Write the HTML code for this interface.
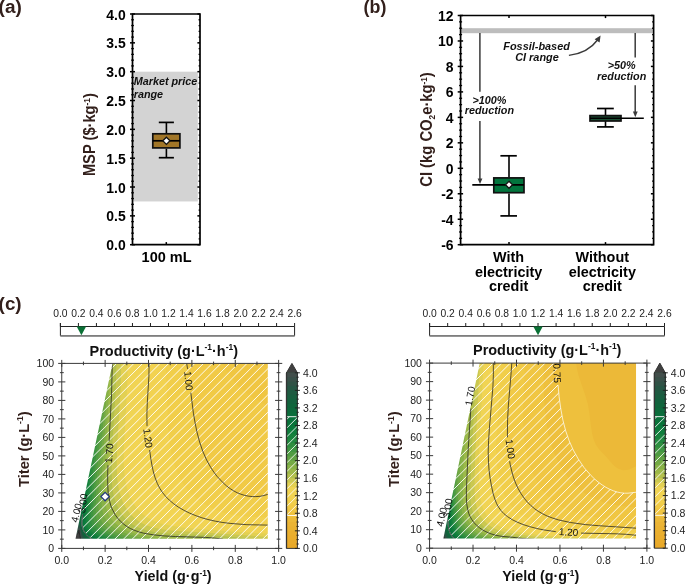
<!DOCTYPE html>
<html><head><meta charset="utf-8"><style>
html,body{margin:0;padding:0;background:#fff;}
svg{display:block;font-family:"Liberation Sans",sans-serif;will-change:transform;}
</style></head><body>
<svg width="685" height="585" viewBox="0 0 685 585">
<text x="-1.4" y="13.1" font-size="18" font-weight="bold" text-anchor="start" fill="#33201c"  textLength="23.2" lengthAdjust="spacingAndGlyphs">(a)</text>
<rect x="132.5" y="71.68" width="65.3" height="129.77" fill="#d3d3d3"/>
<line x1="130" y1="244.7" x2="135" y2="244.7" stroke="#000" stroke-width="1.5" />
<line x1="197.4" y1="244.7" x2="200" y2="244.7" stroke="#000" stroke-width="1.5" />
<text transform="translate(125.7,250.2) scale(0.93,1)" font-size="15" font-weight="bold" text-anchor="end" fill="#000" >0.0</text>
<line x1="131.2" y1="238.93" x2="133.9" y2="238.93" stroke="#000" stroke-width="1.3" />
<line x1="198.6" y1="238.93" x2="200" y2="238.93" stroke="#000" stroke-width="1.3" />
<line x1="131.2" y1="233.16" x2="133.9" y2="233.16" stroke="#000" stroke-width="1.3" />
<line x1="198.6" y1="233.16" x2="200" y2="233.16" stroke="#000" stroke-width="1.3" />
<line x1="131.2" y1="227.4" x2="133.9" y2="227.4" stroke="#000" stroke-width="1.3" />
<line x1="198.6" y1="227.4" x2="200" y2="227.4" stroke="#000" stroke-width="1.3" />
<line x1="131.2" y1="221.63" x2="133.9" y2="221.63" stroke="#000" stroke-width="1.3" />
<line x1="198.6" y1="221.63" x2="200" y2="221.63" stroke="#000" stroke-width="1.3" />
<line x1="130" y1="215.86" x2="135" y2="215.86" stroke="#000" stroke-width="1.5" />
<line x1="197.4" y1="215.86" x2="200" y2="215.86" stroke="#000" stroke-width="1.5" />
<text transform="translate(125.7,221.36) scale(0.93,1)" font-size="15" font-weight="bold" text-anchor="end" fill="#000" >0.5</text>
<line x1="131.2" y1="210.09" x2="133.9" y2="210.09" stroke="#000" stroke-width="1.3" />
<line x1="198.6" y1="210.09" x2="200" y2="210.09" stroke="#000" stroke-width="1.3" />
<line x1="131.2" y1="204.33" x2="133.9" y2="204.33" stroke="#000" stroke-width="1.3" />
<line x1="198.6" y1="204.33" x2="200" y2="204.33" stroke="#000" stroke-width="1.3" />
<line x1="131.2" y1="198.56" x2="133.9" y2="198.56" stroke="#000" stroke-width="1.3" />
<line x1="198.6" y1="198.56" x2="200" y2="198.56" stroke="#000" stroke-width="1.3" />
<line x1="131.2" y1="192.79" x2="133.9" y2="192.79" stroke="#000" stroke-width="1.3" />
<line x1="198.6" y1="192.79" x2="200" y2="192.79" stroke="#000" stroke-width="1.3" />
<line x1="130" y1="187.02" x2="135" y2="187.02" stroke="#000" stroke-width="1.5" />
<line x1="197.4" y1="187.02" x2="200" y2="187.02" stroke="#000" stroke-width="1.5" />
<text transform="translate(125.7,192.52) scale(0.93,1)" font-size="15" font-weight="bold" text-anchor="end" fill="#000" >1.0</text>
<line x1="131.2" y1="181.26" x2="133.9" y2="181.26" stroke="#000" stroke-width="1.3" />
<line x1="198.6" y1="181.26" x2="200" y2="181.26" stroke="#000" stroke-width="1.3" />
<line x1="131.2" y1="175.49" x2="133.9" y2="175.49" stroke="#000" stroke-width="1.3" />
<line x1="198.6" y1="175.49" x2="200" y2="175.49" stroke="#000" stroke-width="1.3" />
<line x1="131.2" y1="169.72" x2="133.9" y2="169.72" stroke="#000" stroke-width="1.3" />
<line x1="198.6" y1="169.72" x2="200" y2="169.72" stroke="#000" stroke-width="1.3" />
<line x1="131.2" y1="163.95" x2="133.9" y2="163.95" stroke="#000" stroke-width="1.3" />
<line x1="198.6" y1="163.95" x2="200" y2="163.95" stroke="#000" stroke-width="1.3" />
<line x1="130" y1="158.19" x2="135" y2="158.19" stroke="#000" stroke-width="1.5" />
<line x1="197.4" y1="158.19" x2="200" y2="158.19" stroke="#000" stroke-width="1.5" />
<text transform="translate(125.7,163.69) scale(0.93,1)" font-size="15" font-weight="bold" text-anchor="end" fill="#000" >1.5</text>
<line x1="131.2" y1="152.42" x2="133.9" y2="152.42" stroke="#000" stroke-width="1.3" />
<line x1="198.6" y1="152.42" x2="200" y2="152.42" stroke="#000" stroke-width="1.3" />
<line x1="131.2" y1="146.65" x2="133.9" y2="146.65" stroke="#000" stroke-width="1.3" />
<line x1="198.6" y1="146.65" x2="200" y2="146.65" stroke="#000" stroke-width="1.3" />
<line x1="131.2" y1="140.88" x2="133.9" y2="140.88" stroke="#000" stroke-width="1.3" />
<line x1="198.6" y1="140.88" x2="200" y2="140.88" stroke="#000" stroke-width="1.3" />
<line x1="131.2" y1="135.12" x2="133.9" y2="135.12" stroke="#000" stroke-width="1.3" />
<line x1="198.6" y1="135.12" x2="200" y2="135.12" stroke="#000" stroke-width="1.3" />
<line x1="130" y1="129.35" x2="135" y2="129.35" stroke="#000" stroke-width="1.5" />
<line x1="197.4" y1="129.35" x2="200" y2="129.35" stroke="#000" stroke-width="1.5" />
<text transform="translate(125.7,134.85) scale(0.93,1)" font-size="15" font-weight="bold" text-anchor="end" fill="#000" >2.0</text>
<line x1="131.2" y1="123.58" x2="133.9" y2="123.58" stroke="#000" stroke-width="1.3" />
<line x1="198.6" y1="123.58" x2="200" y2="123.58" stroke="#000" stroke-width="1.3" />
<line x1="131.2" y1="117.81" x2="133.9" y2="117.81" stroke="#000" stroke-width="1.3" />
<line x1="198.6" y1="117.81" x2="200" y2="117.81" stroke="#000" stroke-width="1.3" />
<line x1="131.2" y1="112.05" x2="133.9" y2="112.05" stroke="#000" stroke-width="1.3" />
<line x1="198.6" y1="112.05" x2="200" y2="112.05" stroke="#000" stroke-width="1.3" />
<line x1="131.2" y1="106.28" x2="133.9" y2="106.28" stroke="#000" stroke-width="1.3" />
<line x1="198.6" y1="106.28" x2="200" y2="106.28" stroke="#000" stroke-width="1.3" />
<line x1="130" y1="100.51" x2="135" y2="100.51" stroke="#000" stroke-width="1.5" />
<line x1="197.4" y1="100.51" x2="200" y2="100.51" stroke="#000" stroke-width="1.5" />
<text transform="translate(125.7,106.01) scale(0.93,1)" font-size="15" font-weight="bold" text-anchor="end" fill="#000" >2.5</text>
<line x1="131.2" y1="94.75" x2="133.9" y2="94.75" stroke="#000" stroke-width="1.3" />
<line x1="198.6" y1="94.75" x2="200" y2="94.75" stroke="#000" stroke-width="1.3" />
<line x1="131.2" y1="88.98" x2="133.9" y2="88.98" stroke="#000" stroke-width="1.3" />
<line x1="198.6" y1="88.98" x2="200" y2="88.98" stroke="#000" stroke-width="1.3" />
<line x1="131.2" y1="83.21" x2="133.9" y2="83.21" stroke="#000" stroke-width="1.3" />
<line x1="198.6" y1="83.21" x2="200" y2="83.21" stroke="#000" stroke-width="1.3" />
<line x1="131.2" y1="77.44" x2="133.9" y2="77.44" stroke="#000" stroke-width="1.3" />
<line x1="198.6" y1="77.44" x2="200" y2="77.44" stroke="#000" stroke-width="1.3" />
<line x1="130" y1="71.68" x2="135" y2="71.68" stroke="#000" stroke-width="1.5" />
<line x1="197.4" y1="71.68" x2="200" y2="71.68" stroke="#000" stroke-width="1.5" />
<text transform="translate(125.7,77.18) scale(0.93,1)" font-size="15" font-weight="bold" text-anchor="end" fill="#000" >3.0</text>
<line x1="131.2" y1="65.91" x2="133.9" y2="65.91" stroke="#000" stroke-width="1.3" />
<line x1="198.6" y1="65.91" x2="200" y2="65.91" stroke="#000" stroke-width="1.3" />
<line x1="131.2" y1="60.14" x2="133.9" y2="60.14" stroke="#000" stroke-width="1.3" />
<line x1="198.6" y1="60.14" x2="200" y2="60.14" stroke="#000" stroke-width="1.3" />
<line x1="131.2" y1="54.37" x2="133.9" y2="54.37" stroke="#000" stroke-width="1.3" />
<line x1="198.6" y1="54.37" x2="200" y2="54.37" stroke="#000" stroke-width="1.3" />
<line x1="131.2" y1="48.6" x2="133.9" y2="48.6" stroke="#000" stroke-width="1.3" />
<line x1="198.6" y1="48.6" x2="200" y2="48.6" stroke="#000" stroke-width="1.3" />
<line x1="130" y1="42.84" x2="135" y2="42.84" stroke="#000" stroke-width="1.5" />
<line x1="197.4" y1="42.84" x2="200" y2="42.84" stroke="#000" stroke-width="1.5" />
<text transform="translate(125.7,48.34) scale(0.93,1)" font-size="15" font-weight="bold" text-anchor="end" fill="#000" >3.5</text>
<line x1="131.2" y1="37.07" x2="133.9" y2="37.07" stroke="#000" stroke-width="1.3" />
<line x1="198.6" y1="37.07" x2="200" y2="37.07" stroke="#000" stroke-width="1.3" />
<line x1="131.2" y1="31.3" x2="133.9" y2="31.3" stroke="#000" stroke-width="1.3" />
<line x1="198.6" y1="31.3" x2="200" y2="31.3" stroke="#000" stroke-width="1.3" />
<line x1="131.2" y1="25.53" x2="133.9" y2="25.53" stroke="#000" stroke-width="1.3" />
<line x1="198.6" y1="25.53" x2="200" y2="25.53" stroke="#000" stroke-width="1.3" />
<line x1="131.2" y1="19.77" x2="133.9" y2="19.77" stroke="#000" stroke-width="1.3" />
<line x1="198.6" y1="19.77" x2="200" y2="19.77" stroke="#000" stroke-width="1.3" />
<line x1="130" y1="14" x2="135" y2="14" stroke="#000" stroke-width="1.5" />
<line x1="197.4" y1="14" x2="200" y2="14" stroke="#000" stroke-width="1.5" />
<text transform="translate(125.7,19.5) scale(0.93,1)" font-size="15" font-weight="bold" text-anchor="end" fill="#000" >4.0</text>
<path d="M132.5 14.0 H200.0 V244.7 H132.5 Z" fill="none" stroke="#000" stroke-width="1.7"/>
<line x1="166.3" y1="244.7" x2="166.3" y2="242.1" stroke="#000" stroke-width="1.5" />
<text x="166.6" y="261.6" font-size="14.5" font-weight="bold" text-anchor="middle" fill="#000" >100 mL</text>
<text transform="translate(95.2,134.6) rotate(-90)" font-size="15.8" font-weight="bold" text-anchor="middle" fill="#33201c" textLength="83" lengthAdjust="spacingAndGlyphs">MSP ($·kg<tspan font-size="9" dy="-5.5">-1</tspan><tspan dy="5.5">)</tspan></text>
<text x="133.7" y="85" font-size="10.8" font-weight="bold" text-anchor="start" fill="#111" font-style="italic" >Market price</text>
<text x="133.7" y="97.8" font-size="10.8" font-weight="bold" text-anchor="start" fill="#111" font-style="italic" >range</text>
<line x1="166.4" y1="122.4" x2="166.4" y2="133" stroke="#000" stroke-width="1.6" />
<line x1="166.4" y1="148.7" x2="166.4" y2="157.7" stroke="#000" stroke-width="1.6" />
<line x1="158.8" y1="122.4" x2="173.9" y2="122.4" stroke="#000" stroke-width="1.7" />
<line x1="158.8" y1="157.7" x2="173.9" y2="157.7" stroke="#000" stroke-width="1.7" />
<rect x="152.8" y="133.8" width="27.1" height="14.1" fill="#a17628" stroke="#111" stroke-width="1.7"/>
<line x1="152.8" y1="140.8" x2="179.9" y2="140.8" stroke="#000" stroke-width="1.7" />
<path d="M166.4 137.2 L170 140.8 L166.4 144.4 L162.8 140.8 Z" fill="#fff" stroke="#111" stroke-width="1.3"/>
<text x="363.6" y="12.8" font-size="18" font-weight="bold" text-anchor="start" fill="#33201c"  textLength="22.8" lengthAdjust="spacingAndGlyphs">(b)</text>
<rect x="461.5" y="28.2" width="191.1" height="5.0" fill="#bdbdbd"/>
<line x1="457.7" y1="244.7" x2="463.1" y2="244.7" stroke="#000" stroke-width="1.5" />
<line x1="650.9" y1="244.7" x2="653.6" y2="244.7" stroke="#000" stroke-width="1.5" />
<text transform="translate(453.6,250.2) scale(0.93,1)" font-size="15" font-weight="bold" text-anchor="end" fill="#000" >-6</text>
<line x1="459.1" y1="238.33" x2="462.1" y2="238.33" stroke="#000" stroke-width="1.3" />
<line x1="652.1" y1="238.33" x2="653.6" y2="238.33" stroke="#000" stroke-width="1.3" />
<line x1="459.1" y1="231.97" x2="462.1" y2="231.97" stroke="#000" stroke-width="1.3" />
<line x1="652.1" y1="231.97" x2="653.6" y2="231.97" stroke="#000" stroke-width="1.3" />
<line x1="459.1" y1="225.6" x2="462.1" y2="225.6" stroke="#000" stroke-width="1.3" />
<line x1="652.1" y1="225.6" x2="653.6" y2="225.6" stroke="#000" stroke-width="1.3" />
<line x1="457.7" y1="219.23" x2="463.1" y2="219.23" stroke="#000" stroke-width="1.5" />
<line x1="650.9" y1="219.23" x2="653.6" y2="219.23" stroke="#000" stroke-width="1.5" />
<text transform="translate(453.6,224.73) scale(0.93,1)" font-size="15" font-weight="bold" text-anchor="end" fill="#000" >-4</text>
<line x1="459.1" y1="212.87" x2="462.1" y2="212.87" stroke="#000" stroke-width="1.3" />
<line x1="652.1" y1="212.87" x2="653.6" y2="212.87" stroke="#000" stroke-width="1.3" />
<line x1="459.1" y1="206.5" x2="462.1" y2="206.5" stroke="#000" stroke-width="1.3" />
<line x1="652.1" y1="206.5" x2="653.6" y2="206.5" stroke="#000" stroke-width="1.3" />
<line x1="459.1" y1="200.13" x2="462.1" y2="200.13" stroke="#000" stroke-width="1.3" />
<line x1="652.1" y1="200.13" x2="653.6" y2="200.13" stroke="#000" stroke-width="1.3" />
<line x1="457.7" y1="193.77" x2="463.1" y2="193.77" stroke="#000" stroke-width="1.5" />
<line x1="650.9" y1="193.77" x2="653.6" y2="193.77" stroke="#000" stroke-width="1.5" />
<text transform="translate(453.6,199.27) scale(0.93,1)" font-size="15" font-weight="bold" text-anchor="end" fill="#000" >-2</text>
<line x1="459.1" y1="187.4" x2="462.1" y2="187.4" stroke="#000" stroke-width="1.3" />
<line x1="652.1" y1="187.4" x2="653.6" y2="187.4" stroke="#000" stroke-width="1.3" />
<line x1="459.1" y1="181.03" x2="462.1" y2="181.03" stroke="#000" stroke-width="1.3" />
<line x1="652.1" y1="181.03" x2="653.6" y2="181.03" stroke="#000" stroke-width="1.3" />
<line x1="459.1" y1="174.67" x2="462.1" y2="174.67" stroke="#000" stroke-width="1.3" />
<line x1="652.1" y1="174.67" x2="653.6" y2="174.67" stroke="#000" stroke-width="1.3" />
<line x1="457.7" y1="168.3" x2="463.1" y2="168.3" stroke="#000" stroke-width="1.5" />
<line x1="650.9" y1="168.3" x2="653.6" y2="168.3" stroke="#000" stroke-width="1.5" />
<text transform="translate(453.6,173.8) scale(0.93,1)" font-size="15" font-weight="bold" text-anchor="end" fill="#000" >0</text>
<line x1="459.1" y1="161.93" x2="462.1" y2="161.93" stroke="#000" stroke-width="1.3" />
<line x1="652.1" y1="161.93" x2="653.6" y2="161.93" stroke="#000" stroke-width="1.3" />
<line x1="459.1" y1="155.57" x2="462.1" y2="155.57" stroke="#000" stroke-width="1.3" />
<line x1="652.1" y1="155.57" x2="653.6" y2="155.57" stroke="#000" stroke-width="1.3" />
<line x1="459.1" y1="149.2" x2="462.1" y2="149.2" stroke="#000" stroke-width="1.3" />
<line x1="652.1" y1="149.2" x2="653.6" y2="149.2" stroke="#000" stroke-width="1.3" />
<line x1="457.7" y1="142.83" x2="463.1" y2="142.83" stroke="#000" stroke-width="1.5" />
<line x1="650.9" y1="142.83" x2="653.6" y2="142.83" stroke="#000" stroke-width="1.5" />
<text transform="translate(453.6,148.33) scale(0.93,1)" font-size="15" font-weight="bold" text-anchor="end" fill="#000" >2</text>
<line x1="459.1" y1="136.47" x2="462.1" y2="136.47" stroke="#000" stroke-width="1.3" />
<line x1="652.1" y1="136.47" x2="653.6" y2="136.47" stroke="#000" stroke-width="1.3" />
<line x1="459.1" y1="130.1" x2="462.1" y2="130.1" stroke="#000" stroke-width="1.3" />
<line x1="652.1" y1="130.1" x2="653.6" y2="130.1" stroke="#000" stroke-width="1.3" />
<line x1="459.1" y1="123.73" x2="462.1" y2="123.73" stroke="#000" stroke-width="1.3" />
<line x1="652.1" y1="123.73" x2="653.6" y2="123.73" stroke="#000" stroke-width="1.3" />
<line x1="457.7" y1="117.37" x2="463.1" y2="117.37" stroke="#000" stroke-width="1.5" />
<line x1="650.9" y1="117.37" x2="653.6" y2="117.37" stroke="#000" stroke-width="1.5" />
<text transform="translate(453.6,122.87) scale(0.93,1)" font-size="15" font-weight="bold" text-anchor="end" fill="#000" >4</text>
<line x1="459.1" y1="111" x2="462.1" y2="111" stroke="#000" stroke-width="1.3" />
<line x1="652.1" y1="111" x2="653.6" y2="111" stroke="#000" stroke-width="1.3" />
<line x1="459.1" y1="104.63" x2="462.1" y2="104.63" stroke="#000" stroke-width="1.3" />
<line x1="652.1" y1="104.63" x2="653.6" y2="104.63" stroke="#000" stroke-width="1.3" />
<line x1="459.1" y1="98.27" x2="462.1" y2="98.27" stroke="#000" stroke-width="1.3" />
<line x1="652.1" y1="98.27" x2="653.6" y2="98.27" stroke="#000" stroke-width="1.3" />
<line x1="457.7" y1="91.9" x2="463.1" y2="91.9" stroke="#000" stroke-width="1.5" />
<line x1="650.9" y1="91.9" x2="653.6" y2="91.9" stroke="#000" stroke-width="1.5" />
<text transform="translate(453.6,97.4) scale(0.93,1)" font-size="15" font-weight="bold" text-anchor="end" fill="#000" >6</text>
<line x1="459.1" y1="85.53" x2="462.1" y2="85.53" stroke="#000" stroke-width="1.3" />
<line x1="652.1" y1="85.53" x2="653.6" y2="85.53" stroke="#000" stroke-width="1.3" />
<line x1="459.1" y1="79.17" x2="462.1" y2="79.17" stroke="#000" stroke-width="1.3" />
<line x1="652.1" y1="79.17" x2="653.6" y2="79.17" stroke="#000" stroke-width="1.3" />
<line x1="459.1" y1="72.8" x2="462.1" y2="72.8" stroke="#000" stroke-width="1.3" />
<line x1="652.1" y1="72.8" x2="653.6" y2="72.8" stroke="#000" stroke-width="1.3" />
<line x1="457.7" y1="66.43" x2="463.1" y2="66.43" stroke="#000" stroke-width="1.5" />
<line x1="650.9" y1="66.43" x2="653.6" y2="66.43" stroke="#000" stroke-width="1.5" />
<text transform="translate(453.6,71.93) scale(0.93,1)" font-size="15" font-weight="bold" text-anchor="end" fill="#000" >8</text>
<line x1="459.1" y1="60.07" x2="462.1" y2="60.07" stroke="#000" stroke-width="1.3" />
<line x1="652.1" y1="60.07" x2="653.6" y2="60.07" stroke="#000" stroke-width="1.3" />
<line x1="459.1" y1="53.7" x2="462.1" y2="53.7" stroke="#000" stroke-width="1.3" />
<line x1="652.1" y1="53.7" x2="653.6" y2="53.7" stroke="#000" stroke-width="1.3" />
<line x1="459.1" y1="47.33" x2="462.1" y2="47.33" stroke="#000" stroke-width="1.3" />
<line x1="652.1" y1="47.33" x2="653.6" y2="47.33" stroke="#000" stroke-width="1.3" />
<line x1="457.7" y1="40.97" x2="463.1" y2="40.97" stroke="#000" stroke-width="1.5" />
<line x1="650.9" y1="40.97" x2="653.6" y2="40.97" stroke="#000" stroke-width="1.5" />
<text transform="translate(453.6,46.47) scale(0.93,1)" font-size="15" font-weight="bold" text-anchor="end" fill="#000" >10</text>
<line x1="459.1" y1="34.6" x2="462.1" y2="34.6" stroke="#000" stroke-width="1.3" />
<line x1="652.1" y1="34.6" x2="653.6" y2="34.6" stroke="#000" stroke-width="1.3" />
<line x1="459.1" y1="28.23" x2="462.1" y2="28.23" stroke="#000" stroke-width="1.3" />
<line x1="652.1" y1="28.23" x2="653.6" y2="28.23" stroke="#000" stroke-width="1.3" />
<line x1="459.1" y1="21.87" x2="462.1" y2="21.87" stroke="#000" stroke-width="1.3" />
<line x1="652.1" y1="21.87" x2="653.6" y2="21.87" stroke="#000" stroke-width="1.3" />
<line x1="457.7" y1="15.5" x2="463.1" y2="15.5" stroke="#000" stroke-width="1.5" />
<line x1="650.9" y1="15.5" x2="653.6" y2="15.5" stroke="#000" stroke-width="1.5" />
<text transform="translate(453.6,21) scale(0.93,1)" font-size="15" font-weight="bold" text-anchor="end" fill="#000" >12</text>
<path d="M460.6 15.5 H653.6 V244.7 H460.6 Z" fill="none" stroke="#000" stroke-width="1.7"/>
<line x1="509" y1="244.7" x2="509" y2="242.1" stroke="#000" stroke-width="1.5" />
<line x1="509" y1="15.5" x2="509" y2="18.1" stroke="#000" stroke-width="1.5" />
<line x1="605.5" y1="244.7" x2="605.5" y2="242.1" stroke="#000" stroke-width="1.5" />
<line x1="605.5" y1="15.5" x2="605.5" y2="18.1" stroke="#000" stroke-width="1.5" />
<text x="508.6" y="262.3" font-size="14.4" font-weight="bold" text-anchor="middle" fill="#000" >With</text>
<text x="508.6" y="276.5" font-size="14.4" font-weight="bold" text-anchor="middle" fill="#000" >electricity</text>
<text x="508.6" y="290.6" font-size="14.4" font-weight="bold" text-anchor="middle" fill="#000" >credit</text>
<text x="602.3" y="262.3" font-size="14.4" font-weight="bold" text-anchor="middle" fill="#000" >Without</text>
<text x="602.3" y="276.5" font-size="14.4" font-weight="bold" text-anchor="middle" fill="#000" >electricity</text>
<text x="602.3" y="290.6" font-size="14.4" font-weight="bold" text-anchor="middle" fill="#000" >credit</text>
<text transform="translate(432.3,129.5) rotate(-90)" font-size="16.3" font-weight="bold" text-anchor="middle" fill="#33201c" textLength="114.6" lengthAdjust="spacingAndGlyphs">CI (kg CO<tspan font-size="9" dy="3">2</tspan><tspan dy="-3">e·kg</tspan><tspan font-size="9" dy="-5.5">-1</tspan><tspan dy="5.5">)</tspan></text>
<line x1="509" y1="155.8" x2="509" y2="177.2" stroke="#000" stroke-width="1.6" />
<line x1="509" y1="193.4" x2="509" y2="215.9" stroke="#000" stroke-width="1.6" />
<line x1="500.4" y1="155.8" x2="516.8" y2="155.8" stroke="#000" stroke-width="1.7" />
<line x1="500.4" y1="215.9" x2="517" y2="215.9" stroke="#000" stroke-width="1.7" />
<rect x="493.8" y="177.9" width="30.2" height="14.8" fill="#02743d" stroke="#111" stroke-width="1.7"/>
<line x1="472.3" y1="184.8" x2="524" y2="184.8" stroke="#000" stroke-width="1.7" />
<path d="M509 181.3 L512.5 184.8 L509 188.3 L505.5 184.8 Z" fill="#fff" stroke="#111" stroke-width="1.3"/>
<line x1="605.5" y1="108.5" x2="605.5" y2="115.4" stroke="#000" stroke-width="1.6" />
<line x1="605.5" y1="121.1" x2="605.5" y2="126.9" stroke="#000" stroke-width="1.6" />
<line x1="597" y1="108.5" x2="613.8" y2="108.5" stroke="#000" stroke-width="1.7" />
<line x1="597" y1="126.9" x2="613.8" y2="126.9" stroke="#000" stroke-width="1.7" />
<rect x="590" y="115.6" width="31" height="5.4" fill="#1b4f33" stroke="#111" stroke-width="1.7"/>
<line x1="590" y1="118.2" x2="643.8" y2="118.2" stroke="#000" stroke-width="1.6" />
<line x1="479.9" y1="33" x2="479.9" y2="91.8" stroke="#3a3a3a" stroke-width="1.5" />
<line x1="479.9" y1="121" x2="479.9" y2="180" stroke="#3a3a3a" stroke-width="1.5" />
<path d="M477.6 178.5 L480 184 L482.4 178.5 Z" fill="#3a3a3a"/>
<line x1="635.2" y1="33" x2="635.2" y2="57.6" stroke="#3a3a3a" stroke-width="1.5" />
<line x1="635.2" y1="85.2" x2="635.2" y2="112" stroke="#3a3a3a" stroke-width="1.5" />
<path d="M632.9 111.5 L635.3 117.2 L637.7 111.5 Z" fill="#3a3a3a"/>
<text x="489.4" y="103.6" font-size="10.8" font-weight="bold" text-anchor="middle" fill="#111" font-style="italic" >&gt;100%</text>
<text x="489.4" y="114.1" font-size="10.8" font-weight="bold" text-anchor="middle" fill="#111" font-style="italic" >reduction</text>
<text x="621.6" y="69.2" font-size="10.8" font-weight="bold" text-anchor="middle" fill="#111" font-style="italic" >&gt;50%</text>
<text x="621.7" y="80.3" font-size="10.8" font-weight="bold" text-anchor="middle" fill="#111" font-style="italic" >reduction</text>
<text x="536.6" y="50.4" font-size="10.9" font-weight="bold" text-anchor="middle" fill="#111" font-style="italic" >Fossil-based</text>
<text x="537" y="61" font-size="10.9" font-weight="bold" text-anchor="middle" fill="#111" font-style="italic" >CI range</text>
<path d="M568.9 55.4 Q588 53 597.5 40" fill="none" stroke="#3a3a3a" stroke-width="1.4"/>
<path d="M594.6 39.2 L600.6 35.4 L599.6 42.4 Z" fill="#3a3a3a"/>
<text x="-1.4" y="310.1" font-size="18" font-weight="bold" text-anchor="start" fill="#33201c"  textLength="23.0" lengthAdjust="spacingAndGlyphs">(c)</text>
<text x="60.4" y="316.9" font-size="10.3" font-weight="normal" text-anchor="middle" fill="#222" >0.0</text>
<line x1="60.4" y1="323" x2="60.4" y2="326.5" stroke="#222" stroke-width="1" />
<text x="78.41" y="316.9" font-size="10.3" font-weight="normal" text-anchor="middle" fill="#222" >0.2</text>
<line x1="78.41" y1="323" x2="78.41" y2="326.5" stroke="#222" stroke-width="1" />
<text x="96.43" y="316.9" font-size="10.3" font-weight="normal" text-anchor="middle" fill="#222" >0.4</text>
<line x1="96.43" y1="323" x2="96.43" y2="326.5" stroke="#222" stroke-width="1" />
<text x="114.44" y="316.9" font-size="10.3" font-weight="normal" text-anchor="middle" fill="#222" >0.6</text>
<line x1="114.44" y1="323" x2="114.44" y2="326.5" stroke="#222" stroke-width="1" />
<text x="132.46" y="316.9" font-size="10.3" font-weight="normal" text-anchor="middle" fill="#222" >0.8</text>
<line x1="132.46" y1="323" x2="132.46" y2="326.5" stroke="#222" stroke-width="1" />
<text x="150.47" y="316.9" font-size="10.3" font-weight="normal" text-anchor="middle" fill="#222" >1.0</text>
<line x1="150.47" y1="323" x2="150.47" y2="326.5" stroke="#222" stroke-width="1" />
<text x="168.49" y="316.9" font-size="10.3" font-weight="normal" text-anchor="middle" fill="#222" >1.2</text>
<line x1="168.49" y1="323" x2="168.49" y2="326.5" stroke="#222" stroke-width="1" />
<text x="186.5" y="316.9" font-size="10.3" font-weight="normal" text-anchor="middle" fill="#222" >1.4</text>
<line x1="186.5" y1="323" x2="186.5" y2="326.5" stroke="#222" stroke-width="1" />
<text x="204.52" y="316.9" font-size="10.3" font-weight="normal" text-anchor="middle" fill="#222" >1.6</text>
<line x1="204.52" y1="323" x2="204.52" y2="326.5" stroke="#222" stroke-width="1" />
<text x="222.53" y="316.9" font-size="10.3" font-weight="normal" text-anchor="middle" fill="#222" >1.8</text>
<line x1="222.53" y1="323" x2="222.53" y2="326.5" stroke="#222" stroke-width="1" />
<text x="240.55" y="316.9" font-size="10.3" font-weight="normal" text-anchor="middle" fill="#222" >2.0</text>
<line x1="240.55" y1="323" x2="240.55" y2="326.5" stroke="#222" stroke-width="1" />
<text x="258.56" y="316.9" font-size="10.3" font-weight="normal" text-anchor="middle" fill="#222" >2.2</text>
<line x1="258.56" y1="323" x2="258.56" y2="326.5" stroke="#222" stroke-width="1" />
<text x="276.58" y="316.9" font-size="10.3" font-weight="normal" text-anchor="middle" fill="#222" >2.4</text>
<line x1="276.58" y1="323" x2="276.58" y2="326.5" stroke="#222" stroke-width="1" />
<text x="294.59" y="316.9" font-size="10.3" font-weight="normal" text-anchor="middle" fill="#222" >2.6</text>
<line x1="294.59" y1="323" x2="294.59" y2="326.5" stroke="#222" stroke-width="1" />
<path d="M60.4 323V335.8H294.59V326.5H60.4" fill="none" stroke="#222" stroke-width="1"/>
<line x1="60.4" y1="336" x2="294.59" y2="336" stroke="#888" stroke-width="1.6"/>
<path d="M76.69 326.6H86.09L81.39 335.3Z" fill="#0a7035"/>
<text x="89.6" y="355.7" font-size="15.5" font-weight="bold" text-anchor="start" fill="#111"  textLength="148.4" lengthAdjust="spacingAndGlyphs">Productivity (g·L<tspan font-size="9" dy="-5.5">-1</tspan><tspan dy="5.5">·h</tspan><tspan font-size="9" dy="-5.5">-1</tspan><tspan dy="5.5">)</tspan></text>
<mask id="lmL" maskUnits="userSpaceOnUse" x="0" y="0" width="685" height="585"><rect width="685" height="585" fill="#fff"/><rect x="97.2" y="449" width="24" height="8.4" fill="#000" transform="rotate(-86 109.2 453.2)"/><rect x="136.1" y="433.9" width="24" height="8.4" fill="#000" transform="rotate(82 148.1 438.1)"/><rect x="176.8" y="376.6" width="24" height="8.4" fill="#000" transform="rotate(85 188.8 380.8)"/><rect x="71.7" y="499.1" width="22" height="8.4" fill="#000" transform="rotate(-82 82.7 503.3)"/><rect x="65.3" y="508.6" width="22" height="8.4" fill="#000" transform="rotate(-76 76.3 512.8)"/></mask>
<mask id="dmL" maskUnits="userSpaceOnUse" x="0" y="0" width="685" height="585"><path d="M75.51 538.7L112.5 363.4L267.81 363.4L267.81 538.7Z" fill="#fff"/></mask>
<g mask="url(#dmL)">
<rect x="69.34" y="362.4" width="199.46" height="177.75" fill="#e9a929"/>
<path d="M69.9 362.8L267.9 362.8L267.9 539.2L69.3 539.2L69.3 362.8Z" fill="#e9ab2b"/>
<path d="M69.9 362.8L267.9 362.8L267.9 539.2L69.3 539.2L69.3 362.8Z" fill="#eaad2d"/>
<path d="M69.9 362.8L267.9 362.8L267.9 539.2L69.3 539.2L69.3 362.8Z" fill="#eaaf2f"/>
<path d="M69.9 362.8L267.9 362.8L267.9 539.2L69.3 539.2L69.3 362.8Z" fill="#eab232"/>
<path d="M69.9 362.8L267.9 362.8L267.9 539.2L69.3 539.2L69.3 362.8Z" fill="#ebb435"/>
<path d="M69.9 362.8L267.9 362.8L267.9 539.2L69.3 539.2L69.3 362.8Z" fill="#ecb938"/>
<path d="M69.9 362.8L267.9 362.8L267.9 539.2L69.3 539.2L69.3 362.8Z" fill="#eec03d"/>
<path d="M69.9 362.8L267.9 362.8L267.9 539.2L69.3 539.2L69.3 362.8Z" fill="#f0c642"/>
<path d="M69.9 362.8L221.6 362.8L226.5 370.7L231.3 377.6L236.1 383.4L240.9 388.2L246.9 393.3L253.5 398.0L260.7 402.3L267.9 405.9L267.9 539.2L69.3 539.2L69.3 362.8Z" fill="#f1ca46"/>
<path d="M69.9 362.8L186.6 362.8L188.9 377.2L193.0 410.2L195.6 425.8L197.7 435.3L200.0 443.2L202.5 450.7L205.5 457.6L207.9 462.6L211.0 467.8L214.2 472.6L217.5 476.9L221.2 481.0L225.0 484.6L228.9 487.7L233.3 490.6L237.3 492.8L241.5 494.5L246.3 495.8L250.5 496.5L255.3 496.6L259.5 496.3L263.1 495.7L267.9 494.4L267.9 539.2L69.3 539.2L69.3 362.8Z" fill="#f1ce4a"/>
<path d="M69.9 362.8L165.0 362.8L166.0 373.0L166.6 383.8L167.9 424.6L168.6 434.2L169.7 443.2L171.6 454.6L174.1 464.2L177.1 472.6L181.0 480.4L184.1 485.2L187.3 489.4L191.2 493.6L195.0 497.2L199.5 500.8L203.9 503.8L209.1 506.8L214.1 509.2L218.7 511.0L224.3 512.8L230.1 514.2L236.1 515.3L249.3 516.7L267.9 517.4L267.9 539.2L69.3 539.2L69.3 362.8Z" fill="#f2d250"/>
<path d="M69.9 362.8L149.1 362.8L148.9 376.6L147.3 402.6L146.9 413.8L147.0 424.6L147.7 434.8L150.6 457.6L151.9 464.8L153.3 471.4L155.0 477.4L156.8 482.2L159.0 487.0L161.6 491.2L164.8 495.4L168.3 499.2L172.5 502.9L177.3 506.4L183.0 509.8L188.9 512.8L194.6 515.2L201.3 517.6L207.5 519.4L215.4 521.2L222.1 522.4L229.5 523.4L246.3 524.7L267.9 525.1L267.9 539.2L69.3 539.2L69.3 362.8Z" fill="#f2d452"/>
<path d="M69.9 362.8L136.3 362.8L136.0 383.8L134.2 423.4L133.7 439.0L133.9 454.0L134.7 466.2L135.7 473.2L137.0 479.2L138.7 485.2L140.7 490.4L143.1 495.3L145.8 499.6L149.1 503.8L152.7 507.4L155.6 509.8L159.1 512.2L163.3 514.6L167.2 516.4L171.9 518.2L177.5 520.0L190.0 523.0L204.3 525.4L222.9 527.6L242.7 529.0L267.9 530.0L267.9 539.2L69.3 539.2L69.3 362.8Z" fill="#f0d454"/>
<path d="M69.9 362.8L127.6 362.8L127.4 377.2L126.9 392.8L123.8 449.2L123.7 462.4L124.4 473.2L125.2 479.8L126.4 485.8L128.1 491.7L130.0 496.6L132.4 501.4L135.3 506.0L138.3 509.9L141.9 513.5L147.3 517.6L153.0 520.6L159.9 523.2L168.3 525.2L182.7 527.5L204.7 529.6L231.9 531.6L267.9 533.7L267.9 539.2L69.3 539.2L69.3 362.8Z" fill="#e2d053"/>
<path d="M69.9 362.8L121.2 362.8L120.9 379.6L120.3 395.8L117.5 439.6L116.9 452.8L116.7 467.2L117.2 478.6L118.0 484.6L119.1 490.8L120.8 496.6L122.6 501.4L125.1 506.4L128.1 511.0L131.1 514.7L134.7 518.2L140.1 522.2L146.1 525.2L153.3 527.5L161.7 529.2L168.9 530.2L178.5 531.0L226.5 533.9L267.9 536.9L267.9 539.2L69.3 539.2L69.3 362.8Z" fill="#cac851"/>
<path d="M69.9 362.8L116.3 362.8L116.0 379.6L115.4 395.2L112.7 439.6L111.9 455.4L111.6 471.4L111.9 482.8L112.5 488.8L113.4 494.2L114.6 499.0L116.3 503.8L118.5 508.6L120.9 512.7L123.7 516.4L126.9 519.9L132.3 524.2L135.3 526.1L138.9 527.8L145.9 530.2L154.5 532.0L162.3 533.0L171.3 533.7L205.5 535.1L224.3 536.2L244.4 538.0L251.9 539.2L69.3 539.2L69.3 362.8Z" fill="#b3c04e"/>
<path d="M69.9 362.8L112.3 362.8L112.1 379.0L111.5 396.4L107.9 467.2L107.6 478.0L107.7 486.2L108.7 496.6L109.5 500.9L110.7 505.3L112.2 509.2L114.0 512.8L116.1 516.2L118.5 519.2L121.0 521.8L123.8 524.2L127.1 526.6L130.2 528.4L134.1 530.2L137.3 531.4L141.4 532.6L146.8 533.8L155.1 535.1L165.3 536.0L175.5 536.5L205.5 537.4L214.5 538.1L223.2 539.2L69.3 539.2L69.3 362.8Z" fill="#9dba4a"/>
<path d="M69.9 362.8L109.0 362.8L108.6 392.2L108.1 410.2L104.7 470.6L104.3 487.6L104.6 497.2L105.6 505.0L107.1 511.0L109.5 516.3L111.2 518.8L113.2 521.2L115.6 523.6L118.5 526.0L124.4 529.6L131.3 532.6L138.3 534.7L147.3 536.4L157.5 537.8L172.8 539.2L69.3 539.2L69.3 362.8Z" fill="#88b247"/>
<path d="M69.9 362.8L106.5 362.8L106.2 394.6L105.6 415.6L104.7 433.0L102.0 472.0L101.3 487.6L101.4 502.0L101.8 507.4L102.7 512.2L103.5 515.2L104.5 517.6L107.1 521.7L110.9 525.4L116.2 529.0L122.0 532.0L128.7 534.5L135.9 536.5L148.2 539.2L69.3 539.2L69.3 362.8Z" fill="#74aa45"/>
<path d="M69.9 362.8L104.2 362.8L104.1 395.2L103.6 414.4L102.6 431.2L99.4 473.8L98.4 491.8L98.4 505.6L98.6 510.4L99.2 514.6L100.3 518.8L102.2 522.4L104.9 525.4L108.8 528.4L114.1 531.4L119.5 533.8L125.7 536.0L136.2 539.2L69.3 539.2L69.3 362.8Z" fill="#61a244"/>
<path d="M69.9 362.8L102.0 362.8L102.0 391.6L101.6 409.6L100.7 426.4L97.5 467.8L96.2 487.6L95.6 506.8L95.8 512.8L96.2 517.0L97.0 520.6L98.4 523.6L100.4 526.0L103.2 528.4L107.0 530.8L111.9 533.2L117.3 535.4L127.6 539.2L69.3 539.2L69.3 362.8Z" fill="#4f9c42"/>
<path d="M69.9 362.8L99.8 362.8L99.7 389.8L99.2 409.6L98.2 427.6L95.2 468.4L94.1 487.6L93.2 508.6L93.2 514.6L93.5 518.8L94.0 521.8L95.1 524.6L96.9 527.0L99.2 529.0L101.9 530.8L106.5 533.2L120.8 539.2L69.3 539.2L69.3 362.8Z" fill="#3f9542"/>
<path d="M69.9 362.8L97.7 362.8L97.5 388.0L96.9 409.0L95.9 427.6L92.2 486.4L91.1 513.4L91.2 521.2L91.6 523.6L92.6 526.0L93.9 527.8L95.8 529.6L98.5 531.4L101.8 533.2L115.1 539.2L69.3 539.2L69.3 362.8Z" fill="#308f40"/>
<path d="M69.9 362.8L95.6 362.8L95.3 386.8L94.6 408.4L90.7 480.4L89.1 518.2L89.1 523.0L89.6 525.4L90.4 527.2L91.7 529.0L93.8 530.8L98.9 533.8L110.3 539.2L69.3 539.2L69.3 362.8Z" fill="#238940"/>
<path d="M69.9 362.8L93.5 362.8L93.2 386.8L92.5 409.6L89.2 475.0L87.3 524.2L87.8 526.6L88.5 528.1L89.7 529.8L91.5 531.4L95.3 533.8L106.1 539.2L69.3 539.2L69.3 362.8Z" fill="#18833e"/>
<path d="M69.9 362.8L91.6 362.8L91.2 386.2L90.6 409.0L87.6 475.0L86.6 511.0L85.7 524.8L86.0 526.6L86.8 528.4L88.0 530.2L89.8 532.0L93.3 534.4L102.6 539.2L69.3 539.2L69.3 362.8Z" fill="#107e3d"/>
<path d="M69.9 362.8L89.9 362.8L88.9 406.0L86.0 478.0L85.5 511.6L84.4 524.8L84.8 527.2L85.5 528.9L86.8 530.8L88.5 532.6L91.5 534.9L99.5 539.2L69.3 539.2L69.3 362.8Z" fill="#0a783b"/>
<path d="M69.9 362.8L88.2 362.8L87.3 404.8L84.6 477.4L84.4 512.8L83.4 524.8L83.7 527.0L84.5 529.0L85.5 530.8L87.3 533.0L90.3 535.5L96.8 539.2L69.3 539.2L69.3 362.8Z" fill="#08743a"/>
<path d="M69.9 362.8L86.7 362.8L85.8 401.8L83.3 477.4L83.1 493.0L83.4 514.6L83.3 517.6L82.5 522.1L82.5 524.2L82.9 526.6L83.7 529.2L84.9 531.4L86.1 533.1L89.1 535.9L94.4 539.2L69.3 539.2L69.3 362.8Z" fill="#09723c"/>
<path d="M69.9 362.8L85.3 362.8L84.4 400.6L81.9 476.2L81.8 494.8L82.5 515.2L81.8 523.0L82.0 524.8L82.6 527.8L83.7 530.7L84.9 532.7L87.9 536.2L92.4 539.2L69.3 539.2L69.3 362.8Z" fill="#0b6e3c"/>
<path d="M69.9 362.8L84.0 362.8L83.0 403.0L80.5 481.0L80.4 496.0L81.2 514.6L81.1 521.2L81.4 524.2L81.9 527.0L83.7 531.9L84.9 534.0L86.7 536.2L90.4 539.2L69.3 539.2L69.3 362.8Z" fill="#0d6a3c"/>
<path d="M69.9 362.8L82.8 362.8L81.7 406.6L79.2 478.6L79.0 492.4L79.1 502.6L80.3 520.0L81.6 527.2L82.7 530.8L84.3 534.2L86.1 536.7L88.7 539.2L69.3 539.2L69.3 362.8Z" fill="#10663c"/>
<path d="M69.9 362.8L81.7 362.8L80.4 410.8L77.7 485.8L77.5 505.6L77.8 511.0L78.5 515.8L81.9 529.8L83.1 533.1L84.3 535.4L87.3 539.2L69.3 539.2L69.3 362.8Z" fill="#14623d"/>
<path d="M69.9 362.8L80.7 362.8L79.1 417.4L75.9 496.0L75.8 510.4L76.1 514.6L76.7 517.6L79.5 523.2L83.1 534.4L84.3 536.7L86.2 539.2L69.3 539.2L69.3 362.8Z" fill="#195e3f"/>
<path d="M69.9 362.8L79.7 362.8L78.2 416.2L74.6 497.8L74.3 514.6L74.7 520.3L75.3 523.2L75.9 524.3L76.5 524.2L77.7 523.3L78.3 523.3L79.5 524.8L80.7 527.8L82.5 534.3L83.7 536.9L85.1 539.2L69.3 539.2L69.3 362.8Z" fill="#1f5a41"/>
<path d="M69.9 362.8L78.8 362.8L76.8 426.4L73.4 502.0L73.2 512.2L73.5 520.0L74.1 524.9L74.7 527.0L75.3 528.2L75.9 528.8L76.5 528.8L77.6 526.0L78.3 525.2L78.9 525.4L79.5 526.1L80.5 528.4L82.3 535.0L84.1 539.2L69.3 539.2L69.3 362.8Z" fill="#265644"/>
<path d="M69.9 362.8L78.0 362.8L76.1 424.0L72.5 501.4L72.3 512.2L72.6 520.0L73.4 526.0L74.6 529.6L75.3 530.6L75.9 530.9L76.5 530.9L77.1 530.4L77.8 527.8L78.3 526.8L78.9 526.6L79.5 527.2L80.3 529.0L81.9 535.6L83.3 539.2L69.3 539.2L69.3 362.8Z" fill="#305246"/>
<path d="M69.9 362.8L77.2 362.8L75.2 426.4L71.7 499.9L71.5 511.6L71.8 520.0L72.6 526.6L73.3 529.0L74.1 530.8L75.3 532.2L75.9 532.4L76.5 532.3L77.3 531.4L78.3 528.2L78.9 527.7L79.5 528.2L80.1 529.8L81.3 535.6L82.4 539.2L69.3 539.2L69.3 362.8Z" fill="#385049"/>
<path d="M69.9 362.8L76.5 362.8L74.5 424.6L71.1 499.0L70.8 510.4L71.1 519.4L71.9 526.6L72.7 529.6L73.5 531.7L74.8 533.2L75.9 533.6L76.5 533.5L77.1 533.1L77.7 532.1L78.7 529.0L78.9 528.7L79.3 529.0L79.8 530.2L80.5 535.0L81.5 539.2L69.3 539.2L69.3 362.8Z" fill="#414e4b"/>
<path d="M69.9 362.8L75.8 362.8L73.8 424.0L70.4 499.0L70.1 510.4L70.4 518.8L71.2 526.6L71.9 529.6L72.9 532.2L73.5 533.2L74.7 534.4L75.9 534.8L76.5 534.7L77.2 534.4L78.2 533.2L78.7 532.0L78.9 530.1L79.8 535.6L80.6 539.2L69.3 539.2L69.3 362.8Z" fill="#404040"/>
<clipPath id="hcL"><path d="M85.5 362.8L267.9 362.8L267.9 539.2L92.4 539.2L89.1 537.1L87.3 535.6L84.9 532.7L83.1 529.3L82.1 525.4L81.8 522.4L82.5 515.2L81.8 494.8L82.0 475.6L84.4 401.2L85.3 362.8Z"/></clipPath>
<path clip-path="url(#hcL)" d="M69.35 358.4L-116.4 544.15M78.05 358.4L-107.7 544.15M86.75 358.4L-99 544.15M95.45 358.4L-90.3 544.15M104.15 358.4L-81.6 544.15M112.85 358.4L-72.9 544.15M121.55 358.4L-64.2 544.15M130.25 358.4L-55.5 544.15M138.95 358.4L-46.8 544.15M147.65 358.4L-38.1 544.15M156.35 358.4L-29.4 544.15M165.05 358.4L-20.7 544.15M173.75 358.4L-12 544.15M182.45 358.4L-3.3 544.15M191.15 358.4L5.4 544.15M199.85 358.4L14.1 544.15M208.55 358.4L22.8 544.15M217.25 358.4L31.5 544.15M225.95 358.4L40.2 544.15M234.65 358.4L48.9 544.15M243.35 358.4L57.6 544.15M252.05 358.4L66.3 544.15M260.75 358.4L75 544.15M269.45 358.4L83.7 544.15M278.15 358.4L92.4 544.15M286.85 358.4L101.1 544.15M295.55 358.4L109.8 544.15M304.25 358.4L118.5 544.15M312.95 358.4L127.2 544.15M321.65 358.4L135.9 544.15M330.35 358.4L144.6 544.15M339.05 358.4L153.3 544.15M347.75 358.4L162 544.15M356.45 358.4L170.7 544.15M365.15 358.4L179.4 544.15M373.85 358.4L188.1 544.15M382.55 358.4L196.8 544.15M391.25 358.4L205.5 544.15M399.95 358.4L214.2 544.15M408.65 358.4L222.9 544.15M417.35 358.4L231.6 544.15M426.05 358.4L240.3 544.15M434.75 358.4L249 544.15M443.45 358.4L257.7 544.15M452.15 358.4L266.4 544.15" stroke="#fff" stroke-opacity="0.92" stroke-width="1" fill="none"/>
<path d="M85.3 362.8L84.4 400.6L81.9 476.2L81.8 494.8L82.5 515.2L81.8 523.0L82.0 524.8L82.6 527.8L83.7 530.7L84.9 532.7L87.9 536.2L92.4 539.2" stroke="#fff" stroke-opacity="0.9" stroke-width="0.8" fill="none" mask="url(#lmL)"/>
<path d="M186.6 362.8L188.8 376.6L193.4 413.2L195.2 423.4L196.9 431.8L199.6 442.0L202.9 451.6L206.6 460.0L210.9 467.7L213.9 472.2L216.9 476.2L223.1 482.8L226.5 485.9L230.1 488.6L233.7 490.9L237.3 492.8L240.9 494.2L244.7 495.4L248.1 496.1L252.3 496.6L255.9 496.6L260.1 496.3L263.1 495.7L267.9 494.4M149.1 362.8L148.9 376.6L147.3 402.6L146.9 413.8L147.0 425.2L147.8 436.0L150.8 458.8L152.1 466.0L153.4 472.0L155.2 478.0L157.3 483.4L159.7 488.2L162.4 492.4L165.8 496.6L169.4 500.2L173.7 503.8L178.5 507.2L184.1 510.4L189.3 513.0L195.9 515.7L201.9 517.8L207.9 519.5L215.4 521.2L222.1 522.4L230.1 523.4L246.9 524.7L267.9 525.1M112.3 362.8L111.6 393.4L108.3 457.0L107.7 473.2L107.7 483.4L108.2 493.0L109.7 501.4L110.7 505.3L112.0 508.6L115.1 514.6L117.7 518.2L120.4 521.2L123.8 524.2L127.1 526.6L130.2 528.4L134.1 530.2L138.9 531.9L143.7 533.2L153.3 534.8L164.1 535.9L175.5 536.5L205.5 537.4L214.5 538.1L223.2 539.2M85.3 362.8L84.4 400.6L81.9 476.2L81.8 494.8L82.5 515.2L81.8 523.0L82.0 524.8L82.6 527.8L83.7 530.7L84.9 532.7L87.9 536.2L92.4 539.2M75.8 362.8L73.8 424.0L70.4 498.4L70.2 515.2L70.9 524.8L71.6 528.4L72.6 531.4L74.1 533.9L75.3 534.7L76.5 534.7L77.2 534.4L78.2 533.2L78.7 532.0L78.9 530.1L79.8 535.6L80.6 539.2" stroke="#222" stroke-width="0.75" fill="none" mask="url(#lmL)"/>
</g>
<text transform="translate(109.2,453.2) rotate(-86)" y="3.6" font-size="10" text-anchor="middle" fill="#111">1.70</text>
<text transform="translate(148.1,438.1) rotate(82)" y="3.6" font-size="10" text-anchor="middle" fill="#111">1.20</text>
<text transform="translate(188.8,380.8) rotate(85)" y="3.6" font-size="10" text-anchor="middle" fill="#111">1.00</text>
<text transform="translate(82.7,503.3) rotate(-82)" y="3.6" font-size="10" text-anchor="middle" fill="#111">3.00</text>
<text transform="translate(76.3,512.8) rotate(-76)" y="3.6" font-size="10" text-anchor="middle" fill="#111">4.00</text>
<path d="M61.75 363.4V548.4H278.65V363.4Z" fill="none" stroke="#3a3a3a" stroke-width="1"/>
<line x1="58.15" y1="548.4" x2="65.35" y2="548.4" stroke="#3a3a3a" stroke-width="1" />
<line x1="275.05" y1="548.4" x2="282.25" y2="548.4" stroke="#3a3a3a" stroke-width="1" />
<text x="54.15" y="552.2" font-size="10.5" font-weight="normal" text-anchor="end" fill="#222" >0</text>
<line x1="59.95" y1="539.15" x2="63.75" y2="539.15" stroke="#3a3a3a" stroke-width="1" />
<line x1="276.65" y1="539.15" x2="280.45" y2="539.15" stroke="#3a3a3a" stroke-width="1" />
<line x1="58.15" y1="529.9" x2="65.35" y2="529.9" stroke="#3a3a3a" stroke-width="1" />
<line x1="275.05" y1="529.9" x2="282.25" y2="529.9" stroke="#3a3a3a" stroke-width="1" />
<text x="54.15" y="533.7" font-size="10.5" font-weight="normal" text-anchor="end" fill="#222" >10</text>
<line x1="59.95" y1="520.65" x2="63.75" y2="520.65" stroke="#3a3a3a" stroke-width="1" />
<line x1="276.65" y1="520.65" x2="280.45" y2="520.65" stroke="#3a3a3a" stroke-width="1" />
<line x1="58.15" y1="511.4" x2="65.35" y2="511.4" stroke="#3a3a3a" stroke-width="1" />
<line x1="275.05" y1="511.4" x2="282.25" y2="511.4" stroke="#3a3a3a" stroke-width="1" />
<text x="54.15" y="515.2" font-size="10.5" font-weight="normal" text-anchor="end" fill="#222" >20</text>
<line x1="59.95" y1="502.15" x2="63.75" y2="502.15" stroke="#3a3a3a" stroke-width="1" />
<line x1="276.65" y1="502.15" x2="280.45" y2="502.15" stroke="#3a3a3a" stroke-width="1" />
<line x1="58.15" y1="492.9" x2="65.35" y2="492.9" stroke="#3a3a3a" stroke-width="1" />
<line x1="275.05" y1="492.9" x2="282.25" y2="492.9" stroke="#3a3a3a" stroke-width="1" />
<text x="54.15" y="496.7" font-size="10.5" font-weight="normal" text-anchor="end" fill="#222" >30</text>
<line x1="59.95" y1="483.65" x2="63.75" y2="483.65" stroke="#3a3a3a" stroke-width="1" />
<line x1="276.65" y1="483.65" x2="280.45" y2="483.65" stroke="#3a3a3a" stroke-width="1" />
<line x1="58.15" y1="474.4" x2="65.35" y2="474.4" stroke="#3a3a3a" stroke-width="1" />
<line x1="275.05" y1="474.4" x2="282.25" y2="474.4" stroke="#3a3a3a" stroke-width="1" />
<text x="54.15" y="478.2" font-size="10.5" font-weight="normal" text-anchor="end" fill="#222" >40</text>
<line x1="59.95" y1="465.15" x2="63.75" y2="465.15" stroke="#3a3a3a" stroke-width="1" />
<line x1="276.65" y1="465.15" x2="280.45" y2="465.15" stroke="#3a3a3a" stroke-width="1" />
<line x1="58.15" y1="455.9" x2="65.35" y2="455.9" stroke="#3a3a3a" stroke-width="1" />
<line x1="275.05" y1="455.9" x2="282.25" y2="455.9" stroke="#3a3a3a" stroke-width="1" />
<text x="54.15" y="459.7" font-size="10.5" font-weight="normal" text-anchor="end" fill="#222" >50</text>
<line x1="59.95" y1="446.65" x2="63.75" y2="446.65" stroke="#3a3a3a" stroke-width="1" />
<line x1="276.65" y1="446.65" x2="280.45" y2="446.65" stroke="#3a3a3a" stroke-width="1" />
<line x1="58.15" y1="437.4" x2="65.35" y2="437.4" stroke="#3a3a3a" stroke-width="1" />
<line x1="275.05" y1="437.4" x2="282.25" y2="437.4" stroke="#3a3a3a" stroke-width="1" />
<text x="54.15" y="441.2" font-size="10.5" font-weight="normal" text-anchor="end" fill="#222" >60</text>
<line x1="59.95" y1="428.15" x2="63.75" y2="428.15" stroke="#3a3a3a" stroke-width="1" />
<line x1="276.65" y1="428.15" x2="280.45" y2="428.15" stroke="#3a3a3a" stroke-width="1" />
<line x1="58.15" y1="418.9" x2="65.35" y2="418.9" stroke="#3a3a3a" stroke-width="1" />
<line x1="275.05" y1="418.9" x2="282.25" y2="418.9" stroke="#3a3a3a" stroke-width="1" />
<text x="54.15" y="422.7" font-size="10.5" font-weight="normal" text-anchor="end" fill="#222" >70</text>
<line x1="59.95" y1="409.65" x2="63.75" y2="409.65" stroke="#3a3a3a" stroke-width="1" />
<line x1="276.65" y1="409.65" x2="280.45" y2="409.65" stroke="#3a3a3a" stroke-width="1" />
<line x1="58.15" y1="400.4" x2="65.35" y2="400.4" stroke="#3a3a3a" stroke-width="1" />
<line x1="275.05" y1="400.4" x2="282.25" y2="400.4" stroke="#3a3a3a" stroke-width="1" />
<text x="54.15" y="404.2" font-size="10.5" font-weight="normal" text-anchor="end" fill="#222" >80</text>
<line x1="59.95" y1="391.15" x2="63.75" y2="391.15" stroke="#3a3a3a" stroke-width="1" />
<line x1="276.65" y1="391.15" x2="280.45" y2="391.15" stroke="#3a3a3a" stroke-width="1" />
<line x1="58.15" y1="381.9" x2="65.35" y2="381.9" stroke="#3a3a3a" stroke-width="1" />
<line x1="275.05" y1="381.9" x2="282.25" y2="381.9" stroke="#3a3a3a" stroke-width="1" />
<text x="54.15" y="385.7" font-size="10.5" font-weight="normal" text-anchor="end" fill="#222" >90</text>
<line x1="59.95" y1="372.65" x2="63.75" y2="372.65" stroke="#3a3a3a" stroke-width="1" />
<line x1="276.65" y1="372.65" x2="280.45" y2="372.65" stroke="#3a3a3a" stroke-width="1" />
<line x1="58.15" y1="363.4" x2="65.35" y2="363.4" stroke="#3a3a3a" stroke-width="1" />
<line x1="275.05" y1="363.4" x2="282.25" y2="363.4" stroke="#3a3a3a" stroke-width="1" />
<text x="54.15" y="367.2" font-size="10.5" font-weight="normal" text-anchor="end" fill="#222" >100</text>
<line x1="61.75" y1="544.9" x2="61.75" y2="551.9" stroke="#3a3a3a" stroke-width="1" />
<line x1="61.75" y1="359.9" x2="61.75" y2="366.9" stroke="#3a3a3a" stroke-width="1" />
<text x="61.75" y="563.7" font-size="10.5" font-weight="normal" text-anchor="middle" fill="#222" >0.0</text>
<line x1="83.44" y1="546.6" x2="83.44" y2="550.2" stroke="#3a3a3a" stroke-width="1" />
<line x1="83.44" y1="361.6" x2="83.44" y2="365.2" stroke="#3a3a3a" stroke-width="1" />
<line x1="105.13" y1="544.9" x2="105.13" y2="551.9" stroke="#3a3a3a" stroke-width="1" />
<line x1="105.13" y1="359.9" x2="105.13" y2="366.9" stroke="#3a3a3a" stroke-width="1" />
<text x="105.13" y="563.7" font-size="10.5" font-weight="normal" text-anchor="middle" fill="#222" >0.2</text>
<line x1="126.82" y1="546.6" x2="126.82" y2="550.2" stroke="#3a3a3a" stroke-width="1" />
<line x1="126.82" y1="361.6" x2="126.82" y2="365.2" stroke="#3a3a3a" stroke-width="1" />
<line x1="148.51" y1="544.9" x2="148.51" y2="551.9" stroke="#3a3a3a" stroke-width="1" />
<line x1="148.51" y1="359.9" x2="148.51" y2="366.9" stroke="#3a3a3a" stroke-width="1" />
<text x="148.51" y="563.7" font-size="10.5" font-weight="normal" text-anchor="middle" fill="#222" >0.4</text>
<line x1="170.2" y1="546.6" x2="170.2" y2="550.2" stroke="#3a3a3a" stroke-width="1" />
<line x1="170.2" y1="361.6" x2="170.2" y2="365.2" stroke="#3a3a3a" stroke-width="1" />
<line x1="191.89" y1="544.9" x2="191.89" y2="551.9" stroke="#3a3a3a" stroke-width="1" />
<line x1="191.89" y1="359.9" x2="191.89" y2="366.9" stroke="#3a3a3a" stroke-width="1" />
<text x="191.89" y="563.7" font-size="10.5" font-weight="normal" text-anchor="middle" fill="#222" >0.6</text>
<line x1="213.58" y1="546.6" x2="213.58" y2="550.2" stroke="#3a3a3a" stroke-width="1" />
<line x1="213.58" y1="361.6" x2="213.58" y2="365.2" stroke="#3a3a3a" stroke-width="1" />
<line x1="235.27" y1="544.9" x2="235.27" y2="551.9" stroke="#3a3a3a" stroke-width="1" />
<line x1="235.27" y1="359.9" x2="235.27" y2="366.9" stroke="#3a3a3a" stroke-width="1" />
<text x="235.27" y="563.7" font-size="10.5" font-weight="normal" text-anchor="middle" fill="#222" >0.8</text>
<line x1="256.96" y1="546.6" x2="256.96" y2="550.2" stroke="#3a3a3a" stroke-width="1" />
<line x1="256.96" y1="361.6" x2="256.96" y2="365.2" stroke="#3a3a3a" stroke-width="1" />
<line x1="278.65" y1="544.9" x2="278.65" y2="551.9" stroke="#3a3a3a" stroke-width="1" />
<line x1="278.65" y1="359.9" x2="278.65" y2="366.9" stroke="#3a3a3a" stroke-width="1" />
<text x="278.65" y="563.7" font-size="10.5" font-weight="normal" text-anchor="middle" fill="#222" >1.0</text>
<text x="134.6" y="581.4" font-size="15.5" font-weight="bold" text-anchor="start" fill="#111"  textLength="77" lengthAdjust="spacingAndGlyphs">Yield (g·g<tspan font-size="9" dy="-5.5">-1</tspan><tspan dy="5.5">)</tspan></text>
<text transform="translate(28.6,449.2) rotate(-90)" font-size="15.5" textLength="75.5" lengthAdjust="spacingAndGlyphs" font-weight="bold" text-anchor="middle" fill="#33201c">Titer (g·L<tspan font-size="9" dy="-5.5">-1</tspan><tspan dy="5.5">)</tspan></text>
<rect x="286.5" y="372.8" width="10.9" height="175.6" fill="#e9a929"/>
<rect x="286.5" y="372.8" width="10.9" height="171.21" fill="#e9ab2b"/>
<rect x="286.5" y="372.8" width="10.9" height="166.82" fill="#eaad2d"/>
<rect x="286.5" y="372.8" width="10.9" height="162.43" fill="#eaaf2f"/>
<rect x="286.5" y="372.8" width="10.9" height="158.04" fill="#eab232"/>
<rect x="286.5" y="372.8" width="10.9" height="153.65" fill="#ebb435"/>
<rect x="286.5" y="372.8" width="10.9" height="149.26" fill="#ecb938"/>
<rect x="286.5" y="372.8" width="10.9" height="144.87" fill="#eec03d"/>
<rect x="286.5" y="372.8" width="10.9" height="140.48" fill="#f0c642"/>
<rect x="286.5" y="372.8" width="10.9" height="136.09" fill="#f1ca46"/>
<rect x="286.5" y="372.8" width="10.9" height="131.7" fill="#f1ce4a"/>
<rect x="286.5" y="372.8" width="10.9" height="127.31" fill="#f2d250"/>
<rect x="286.5" y="372.8" width="10.9" height="122.92" fill="#f2d452"/>
<rect x="286.5" y="372.8" width="10.9" height="118.53" fill="#f0d454"/>
<rect x="286.5" y="372.8" width="10.9" height="114.14" fill="#e2d053"/>
<rect x="286.5" y="372.8" width="10.9" height="109.75" fill="#cac851"/>
<rect x="286.5" y="372.8" width="10.9" height="105.36" fill="#b3c04e"/>
<rect x="286.5" y="372.8" width="10.9" height="100.97" fill="#9db94a"/>
<rect x="286.5" y="372.8" width="10.9" height="96.58" fill="#88b247"/>
<rect x="286.5" y="372.8" width="10.9" height="92.19" fill="#74aa45"/>
<rect x="286.5" y="372.8" width="10.9" height="87.8" fill="#61a244"/>
<rect x="286.5" y="372.8" width="10.9" height="83.41" fill="#4f9c42"/>
<rect x="286.5" y="372.8" width="10.9" height="79.02" fill="#3f9542"/>
<rect x="286.5" y="372.8" width="10.9" height="74.63" fill="#2f8f40"/>
<rect x="286.5" y="372.8" width="10.9" height="70.24" fill="#228940"/>
<rect x="286.5" y="372.8" width="10.9" height="65.85" fill="#18833e"/>
<rect x="286.5" y="372.8" width="10.9" height="61.46" fill="#107e3d"/>
<rect x="286.5" y="372.8" width="10.9" height="57.07" fill="#0a783b"/>
<rect x="286.5" y="372.8" width="10.9" height="52.68" fill="#09743a"/>
<rect x="286.5" y="372.8" width="10.9" height="48.29" fill="#0a723c"/>
<rect x="286.5" y="372.8" width="10.9" height="43.9" fill="#0b6e3c"/>
<rect x="286.5" y="372.8" width="10.9" height="39.51" fill="#0d6a3c"/>
<rect x="286.5" y="372.8" width="10.9" height="35.12" fill="#10663c"/>
<rect x="286.5" y="372.8" width="10.9" height="30.73" fill="#14623e"/>
<rect x="286.5" y="372.8" width="10.9" height="26.34" fill="#195e3f"/>
<rect x="286.5" y="372.8" width="10.9" height="21.95" fill="#1f5a41"/>
<rect x="286.5" y="372.8" width="10.9" height="17.56" fill="#265644"/>
<rect x="286.5" y="372.8" width="10.9" height="13.17" fill="#305246"/>
<rect x="286.5" y="372.8" width="10.9" height="8.78" fill="#395049"/>
<rect x="286.5" y="372.8" width="10.9" height="4.39" fill="#424e4b"/>
<path d="M286.5 372.8L291.95 363.4L297.4 372.8Z" fill="#404040"/>
<clipPath id="cbhL"><rect x="286.5" y="416.7" width="10.9" height="98.78"/></clipPath>
<path clip-path="url(#cbhL)" d="M239.25 414.7L136.48 517.48M247.95 414.7L145.17 517.48M256.65 414.7L153.88 517.48M265.35 414.7L162.57 517.48M274.05 414.7L171.27 517.48M282.75 414.7L179.98 517.48M291.45 414.7L188.67 517.48M300.15 414.7L197.38 517.48M308.85 414.7L206.07 517.48M317.55 414.7L214.77 517.48M326.25 414.7L223.47 517.48M334.95 414.7L232.17 517.48M343.65 414.7L240.88 517.48M352.35 414.7L249.57 517.48M361.05 414.7L258.27 517.48M369.75 414.7L266.97 517.48M378.45 414.7L275.67 517.48M387.15 414.7L284.38 517.48M395.85 414.7L293.07 517.48M404.55 414.7L301.77 517.48M413.25 414.7L310.47 517.48M421.95 414.7L319.17 517.48M430.65 414.7L327.88 517.48M439.35 414.7L336.57 517.48M448.05 414.7L345.27 517.48M456.75 414.7L353.97 517.48M465.45 414.7L362.67 517.48M474.15 414.7L371.38 517.48M482.85 414.7L380.07 517.48M491.55 414.7L388.77 517.48M500.25 414.7L397.47 517.48M508.95 414.7L406.17 517.48M517.65 414.7L414.88 517.48M526.35 414.7L423.57 517.48M535.05 414.7L432.27 517.48M543.75 414.7L440.97 517.48M552.45 414.7L449.67 517.48M561.15 414.7L458.37 517.48M569.85 414.7L467.07 517.48M578.55 414.7L475.77 517.48M587.25 414.7L484.47 517.48M595.95 414.7L493.17 517.48M604.65 414.7L501.87 517.48M613.35 414.7L510.57 517.48M622.05 414.7L519.27 517.48M630.75 414.7L527.98 517.48M639.45 414.7L536.67 517.48M648.15 414.7L545.37 517.48M656.85 414.7L554.07 517.48M665.55 414.7L562.77 517.48M674.25 414.7L571.48 517.48M682.95 414.7L580.17 517.48M691.65 414.7L588.87 517.48M700.35 414.7L597.57 517.48M709.05 414.7L606.27 517.48M717.75 414.7L614.98 517.48M726.45 414.7L623.67 517.48M735.15 414.7L632.37 517.48M743.85 414.7L641.07 517.48M752.55 414.7L649.77 517.48M761.25 414.7L658.48 517.48M769.95 414.7L667.17 517.48M778.65 414.7L675.87 517.48M787.35 414.7L684.57 517.48M796.05 414.7L693.27 517.48" stroke="#fff" stroke-opacity="0.85" stroke-width="1" fill="none"/>
<line x1="286.5" y1="416.7" x2="297.4" y2="416.7" stroke="#fff" stroke-width="0.9" />
<line x1="286.5" y1="515.48" x2="297.4" y2="515.48" stroke="#fff" stroke-width="0.9" />
<path d="M286.5 372.8L291.95 363.4L297.4 372.8V548.4H286.5Z" fill="none" stroke="#333" stroke-width="1"/>
<line x1="286.5" y1="372.8" x2="286.5" y2="548.4" stroke="#333" stroke-width="1.3" />
<line x1="294.9" y1="548.4" x2="299.9" y2="548.4" stroke="#222" stroke-width="1" />
<text x="302.9" y="552.2" font-size="10.5" font-weight="normal" text-anchor="start" fill="#222" >0.0</text>
<line x1="296.4" y1="544.01" x2="298.9" y2="544.01" stroke="#222" stroke-width="0.8" />
<line x1="296.4" y1="539.62" x2="298.9" y2="539.62" stroke="#222" stroke-width="0.8" />
<line x1="296.4" y1="535.23" x2="298.9" y2="535.23" stroke="#222" stroke-width="0.8" />
<line x1="294.9" y1="530.84" x2="299.9" y2="530.84" stroke="#222" stroke-width="1" />
<text x="302.9" y="534.64" font-size="10.5" font-weight="normal" text-anchor="start" fill="#222" >0.4</text>
<line x1="296.4" y1="526.45" x2="298.9" y2="526.45" stroke="#222" stroke-width="0.8" />
<line x1="296.4" y1="522.06" x2="298.9" y2="522.06" stroke="#222" stroke-width="0.8" />
<line x1="296.4" y1="517.67" x2="298.9" y2="517.67" stroke="#222" stroke-width="0.8" />
<line x1="294.9" y1="513.28" x2="299.9" y2="513.28" stroke="#222" stroke-width="1" />
<text x="302.9" y="517.08" font-size="10.5" font-weight="normal" text-anchor="start" fill="#222" >0.8</text>
<line x1="296.4" y1="508.89" x2="298.9" y2="508.89" stroke="#222" stroke-width="0.8" />
<line x1="296.4" y1="504.5" x2="298.9" y2="504.5" stroke="#222" stroke-width="0.8" />
<line x1="296.4" y1="500.11" x2="298.9" y2="500.11" stroke="#222" stroke-width="0.8" />
<line x1="294.9" y1="495.72" x2="299.9" y2="495.72" stroke="#222" stroke-width="1" />
<text x="302.9" y="499.52" font-size="10.5" font-weight="normal" text-anchor="start" fill="#222" >1.2</text>
<line x1="296.4" y1="491.33" x2="298.9" y2="491.33" stroke="#222" stroke-width="0.8" />
<line x1="296.4" y1="486.94" x2="298.9" y2="486.94" stroke="#222" stroke-width="0.8" />
<line x1="296.4" y1="482.55" x2="298.9" y2="482.55" stroke="#222" stroke-width="0.8" />
<line x1="294.9" y1="478.16" x2="299.9" y2="478.16" stroke="#222" stroke-width="1" />
<text x="302.9" y="481.96" font-size="10.5" font-weight="normal" text-anchor="start" fill="#222" >1.6</text>
<line x1="296.4" y1="473.77" x2="298.9" y2="473.77" stroke="#222" stroke-width="0.8" />
<line x1="296.4" y1="469.38" x2="298.9" y2="469.38" stroke="#222" stroke-width="0.8" />
<line x1="296.4" y1="464.99" x2="298.9" y2="464.99" stroke="#222" stroke-width="0.8" />
<line x1="294.9" y1="460.6" x2="299.9" y2="460.6" stroke="#222" stroke-width="1" />
<text x="302.9" y="464.4" font-size="10.5" font-weight="normal" text-anchor="start" fill="#222" >2.0</text>
<line x1="296.4" y1="456.21" x2="298.9" y2="456.21" stroke="#222" stroke-width="0.8" />
<line x1="296.4" y1="451.82" x2="298.9" y2="451.82" stroke="#222" stroke-width="0.8" />
<line x1="296.4" y1="447.43" x2="298.9" y2="447.43" stroke="#222" stroke-width="0.8" />
<line x1="294.9" y1="443.04" x2="299.9" y2="443.04" stroke="#222" stroke-width="1" />
<text x="302.9" y="446.84" font-size="10.5" font-weight="normal" text-anchor="start" fill="#222" >2.4</text>
<line x1="296.4" y1="438.65" x2="298.9" y2="438.65" stroke="#222" stroke-width="0.8" />
<line x1="296.4" y1="434.26" x2="298.9" y2="434.26" stroke="#222" stroke-width="0.8" />
<line x1="296.4" y1="429.87" x2="298.9" y2="429.87" stroke="#222" stroke-width="0.8" />
<line x1="294.9" y1="425.48" x2="299.9" y2="425.48" stroke="#222" stroke-width="1" />
<text x="302.9" y="429.28" font-size="10.5" font-weight="normal" text-anchor="start" fill="#222" >2.8</text>
<line x1="296.4" y1="421.09" x2="298.9" y2="421.09" stroke="#222" stroke-width="0.8" />
<line x1="296.4" y1="416.7" x2="298.9" y2="416.7" stroke="#222" stroke-width="0.8" />
<line x1="296.4" y1="412.31" x2="298.9" y2="412.31" stroke="#222" stroke-width="0.8" />
<line x1="294.9" y1="407.92" x2="299.9" y2="407.92" stroke="#222" stroke-width="1" />
<text x="302.9" y="411.72" font-size="10.5" font-weight="normal" text-anchor="start" fill="#222" >3.2</text>
<line x1="296.4" y1="403.53" x2="298.9" y2="403.53" stroke="#222" stroke-width="0.8" />
<line x1="296.4" y1="399.14" x2="298.9" y2="399.14" stroke="#222" stroke-width="0.8" />
<line x1="296.4" y1="394.75" x2="298.9" y2="394.75" stroke="#222" stroke-width="0.8" />
<line x1="294.9" y1="390.36" x2="299.9" y2="390.36" stroke="#222" stroke-width="1" />
<text x="302.9" y="394.16" font-size="10.5" font-weight="normal" text-anchor="start" fill="#222" >3.6</text>
<line x1="296.4" y1="385.97" x2="298.9" y2="385.97" stroke="#222" stroke-width="0.8" />
<line x1="296.4" y1="381.58" x2="298.9" y2="381.58" stroke="#222" stroke-width="0.8" />
<line x1="296.4" y1="377.19" x2="298.9" y2="377.19" stroke="#222" stroke-width="0.8" />
<line x1="294.9" y1="372.8" x2="299.9" y2="372.8" stroke="#222" stroke-width="1" />
<text x="302.9" y="376.6" font-size="10.5" font-weight="normal" text-anchor="start" fill="#222" >4.0</text>
<path d="M105.13 492.4L109.33 496.6L105.13 500.8L100.93 496.6Z" fill="#fff" stroke="#243a7a" stroke-width="1.3"/>
<text x="429.6" y="316.9" font-size="10.3" font-weight="normal" text-anchor="middle" fill="#222" >0.0</text>
<line x1="429.6" y1="323" x2="429.6" y2="326.5" stroke="#222" stroke-width="1" />
<text x="447.67" y="316.9" font-size="10.3" font-weight="normal" text-anchor="middle" fill="#222" >0.2</text>
<line x1="447.67" y1="323" x2="447.67" y2="326.5" stroke="#222" stroke-width="1" />
<text x="465.74" y="316.9" font-size="10.3" font-weight="normal" text-anchor="middle" fill="#222" >0.4</text>
<line x1="465.74" y1="323" x2="465.74" y2="326.5" stroke="#222" stroke-width="1" />
<text x="483.81" y="316.9" font-size="10.3" font-weight="normal" text-anchor="middle" fill="#222" >0.6</text>
<line x1="483.81" y1="323" x2="483.81" y2="326.5" stroke="#222" stroke-width="1" />
<text x="501.88" y="316.9" font-size="10.3" font-weight="normal" text-anchor="middle" fill="#222" >0.8</text>
<line x1="501.88" y1="323" x2="501.88" y2="326.5" stroke="#222" stroke-width="1" />
<text x="519.95" y="316.9" font-size="10.3" font-weight="normal" text-anchor="middle" fill="#222" >1.0</text>
<line x1="519.95" y1="323" x2="519.95" y2="326.5" stroke="#222" stroke-width="1" />
<text x="538.02" y="316.9" font-size="10.3" font-weight="normal" text-anchor="middle" fill="#222" >1.2</text>
<line x1="538.02" y1="323" x2="538.02" y2="326.5" stroke="#222" stroke-width="1" />
<text x="556.09" y="316.9" font-size="10.3" font-weight="normal" text-anchor="middle" fill="#222" >1.4</text>
<line x1="556.09" y1="323" x2="556.09" y2="326.5" stroke="#222" stroke-width="1" />
<text x="574.16" y="316.9" font-size="10.3" font-weight="normal" text-anchor="middle" fill="#222" >1.6</text>
<line x1="574.16" y1="323" x2="574.16" y2="326.5" stroke="#222" stroke-width="1" />
<text x="592.23" y="316.9" font-size="10.3" font-weight="normal" text-anchor="middle" fill="#222" >1.8</text>
<line x1="592.23" y1="323" x2="592.23" y2="326.5" stroke="#222" stroke-width="1" />
<text x="610.3" y="316.9" font-size="10.3" font-weight="normal" text-anchor="middle" fill="#222" >2.0</text>
<line x1="610.3" y1="323" x2="610.3" y2="326.5" stroke="#222" stroke-width="1" />
<text x="628.37" y="316.9" font-size="10.3" font-weight="normal" text-anchor="middle" fill="#222" >2.2</text>
<line x1="628.37" y1="323" x2="628.37" y2="326.5" stroke="#222" stroke-width="1" />
<text x="646.44" y="316.9" font-size="10.3" font-weight="normal" text-anchor="middle" fill="#222" >2.4</text>
<line x1="646.44" y1="323" x2="646.44" y2="326.5" stroke="#222" stroke-width="1" />
<text x="664.51" y="316.9" font-size="10.3" font-weight="normal" text-anchor="middle" fill="#222" >2.6</text>
<line x1="664.51" y1="323" x2="664.51" y2="326.5" stroke="#222" stroke-width="1" />
<path d="M429.6 323V335.8H664.51V326.5H429.6" fill="none" stroke="#222" stroke-width="1"/>
<line x1="429.6" y1="336" x2="664.51" y2="336" stroke="#888" stroke-width="1.6"/>
<path d="M533.32 326.6H542.72L538.02 335.3Z" fill="#0a7035"/>
<text x="473" y="354.7" font-size="15.5" font-weight="bold" text-anchor="start" fill="#111"  textLength="148.4" lengthAdjust="spacingAndGlyphs">Productivity (g·L<tspan font-size="9" dy="-5.5">-1</tspan><tspan dy="5.5">·h</tspan><tspan font-size="9" dy="-5.5">-1</tspan><tspan dy="5.5">)</tspan></text>
<mask id="lmR" maskUnits="userSpaceOnUse" x="0" y="0" width="685" height="585"><rect width="685" height="585" fill="#fff"/><rect x="458" y="391.8" width="24" height="8.4" fill="#000" transform="rotate(-80 470 396)"/><rect x="498.4" y="444.8" width="24" height="8.4" fill="#000" transform="rotate(82 510.4 449)"/><rect x="545.2" y="369" width="24" height="8.4" fill="#000" transform="rotate(88 557.2 373.2)"/><rect x="556.1" y="527.8" width="25" height="8.4" fill="#000" transform="rotate(3 568.6 532)"/><rect x="436.5" y="503.8" width="22" height="8.4" fill="#000" transform="rotate(-82 447.5 508)"/><rect x="430.5" y="512.8" width="22" height="8.4" fill="#000" transform="rotate(-78 441.5 517)"/></mask>
<mask id="dmR" maskUnits="userSpaceOnUse" x="0" y="0" width="685" height="585"><path d="M443.36 538.4L479.76 363.1L636.03 363.1L636.03 538.4Z" fill="#fff"/></mask>
<g mask="url(#dmR)">
<rect x="437.16" y="362.1" width="199.88" height="177.85" fill="#e9a929"/>
<path d="M437.8 362.5L636.4 362.5L636.4 539.5L437.2 539.5L437.2 362.5Z" fill="#e9ab2b"/>
<path d="M437.8 362.5L636.4 362.5L636.4 539.5L437.2 539.5L437.2 362.5Z" fill="#eaad2d"/>
<path d="M437.8 362.5L636.4 362.5L636.4 539.5L437.2 539.5L437.2 362.5Z" fill="#eaaf2f"/>
<path d="M437.8 362.5L636.4 362.5L636.4 539.5L437.2 539.5L437.2 362.5Z" fill="#eab232"/>
<path d="M437.8 362.5L636.4 362.5L636.4 539.5L437.2 539.5L437.2 362.5Z" fill="#ebb435"/>
<path d="M437.8 362.5L636.4 362.5L636.4 539.5L437.2 539.5L437.2 362.5Z" fill="#ecb938"/>
<path d="M437.8 362.5L576.0 362.5L577.0 369.0L578.6 375.7L585.5 396.1L587.8 404.0L589.2 411.7L591.1 427.3L592.2 433.9L593.8 439.9L596.2 445.3L599.2 449.6L606.4 457.0L612.4 463.9L615.4 466.7L618.3 468.7L622.0 470.0L623.8 470.2L626.2 470.1L629.2 469.4L634.3 466.9L636.4 466.3L636.4 539.5L437.2 539.5L437.2 362.5Z" fill="#eec03d"/>
<path d="M437.8 362.5L543.6 362.5L543.5 379.9L544.0 396.1L544.9 410.5L546.4 423.1L548.3 433.9L550.9 444.1L554.2 453.3L558.2 462.1L561.3 467.5L564.4 472.3L568.0 477.2L572.0 481.9L576.1 486.1L580.2 489.7L584.2 492.7L588.7 495.7L593.2 498.1L598.0 500.2L602.8 501.9L608.2 503.5L619.6 505.7L636.4 507.8L636.4 539.5L437.2 539.5L437.2 362.5Z" fill="#f0c642"/>
<path d="M437.8 362.5L525.1 362.5L523.7 391.9L523.2 411.1L523.4 426.1L524.4 439.3L525.3 445.9L526.4 452.5L527.8 458.5L529.5 464.5L531.4 469.9L533.7 475.3L536.1 480.1L538.6 484.3L541.8 489.1L545.2 493.3L548.8 497.0L552.7 500.5L556.8 503.5L560.8 506.0L565.2 508.3L570.9 510.7L576.1 512.5L582.4 514.3L589.6 515.9L597.0 517.3L613.0 519.5L636.4 521.7L636.4 539.5L437.2 539.5L437.2 362.5Z" fill="#f1ca46"/>
<path d="M437.8 362.5L511.8 362.5L510.9 376.3L508.5 404.5L507.6 418.3L507.3 433.9L508.0 447.7L508.7 454.9L509.8 462.1L511.1 468.7L512.9 475.3L514.9 481.3L517.2 486.7L519.7 491.5L522.7 496.3L526.0 500.5L529.3 504.1L533.3 507.7L537.4 510.7L541.6 513.3L546.4 515.7L552.0 517.9L557.8 519.7L569.8 522.4L584.8 524.5L598.6 525.7L636.4 528.2L636.4 539.5L437.2 539.5L437.2 362.5Z" fill="#f1ce4a"/>
<path d="M437.8 362.5L501.1 362.5L499.5 394.9L496.3 438.7L496.1 450.7L496.7 462.1L497.8 470.4L499.3 478.3L501.3 486.1L503.5 492.7L505.6 497.5L508.4 502.3L511.7 506.5L515.2 510.1L518.1 512.5L521.5 514.9L529.0 519.1L537.9 522.7L547.0 525.3L559.0 527.7L573.4 529.2L586.1 529.9L616.6 530.9L636.4 532.2L636.4 539.5L437.2 539.5L437.2 362.5Z" fill="#f2d250"/>
<path d="M437.8 362.5L493.3 362.5L493.4 374.5L492.9 387.1L489.4 428.3L488.5 441.7L488.3 454.3L488.7 466.3L489.6 474.7L490.9 483.1L492.8 492.1L494.7 498.7L496.5 503.5L498.5 507.1L501.1 510.7L504.6 514.3L507.6 516.7L511.3 519.1L515.8 521.5L519.9 523.3L530.5 526.9L541.6 529.5L553.0 531.3L566.8 532.5L580.0 533.1L616.0 533.8L626.2 534.3L636.4 535.3L636.4 539.5L437.2 539.5L437.2 362.5Z" fill="#f2d452"/>
<path d="M437.8 362.5L487.9 362.5L486.8 389.5L484.2 429.1L483.4 444.7L483.1 461.5L483.6 475.9L484.2 483.7L485.2 491.1L486.4 497.5L487.9 502.9L489.5 507.1L491.7 511.3L494.3 514.9L497.2 517.9L500.2 520.3L504.0 522.7L507.6 524.5L512.1 526.3L517.8 528.1L524.2 529.8L537.2 532.3L550.0 533.9L563.8 534.8L576.5 535.3L610.6 536.0L636.4 537.0L636.4 539.5L437.2 539.5L437.2 362.5Z" fill="#f0d454"/>
<path d="M437.8 362.5L483.6 362.5L479.2 449.5L478.7 469.3L479.0 485.5L479.5 492.1L480.3 498.1L481.3 502.9L482.5 507.1L484.3 511.3L486.4 514.9L488.6 517.9L491.6 520.9L494.6 523.3L498.4 525.7L502.2 527.5L506.2 528.9L511.6 530.4L517.5 531.7L527.4 533.5L535.0 534.6L548.5 535.9L563.2 536.7L636.4 538.4L636.4 539.5L437.2 539.5L437.2 362.5Z" fill="#e2d053"/>
<path d="M437.8 362.5L479.8 362.5L475.2 454.9L474.6 477.1L474.6 492.1L475.0 497.5L475.6 502.3L476.5 506.5L477.6 510.1L479.2 513.7L481.3 517.3L483.7 520.3L486.4 523.0L489.8 525.7L493.6 528.0L497.5 529.9L501.4 531.2L509.2 533.0L531.4 536.2L545.2 537.4L563.2 538.2L635.2 539.5L437.2 539.5L437.2 362.5Z" fill="#cac851"/>
<path d="M437.8 362.5L476.3 362.5L474.3 406.3L471.6 453.7L470.5 481.3L470.3 493.3L470.8 502.3L472.0 508.9L472.9 511.9L474.2 514.9L477.1 519.7L479.1 522.1L481.5 524.5L484.4 526.9L487.1 528.7L490.4 530.5L493.6 531.9L497.2 533.1L500.8 534.0L523.6 537.1L531.4 537.9L548.2 538.9L567.1 539.5L437.2 539.5L437.2 362.5Z" fill="#b3c04e"/>
<path d="M437.8 362.5L473.0 362.5L471.0 406.3L468.2 450.1L466.3 492.1L466.5 500.5L467.2 507.1L468.7 513.1L470.8 517.9L472.6 520.7L474.4 523.0L476.3 525.1L479.1 527.5L484.7 531.1L488.5 532.9L491.7 534.1L496.6 535.5L502.0 536.4L512.8 537.3L523.0 538.6L536.3 539.5L437.2 539.5L437.2 362.5Z" fill="#9dba4a"/>
<path d="M437.8 362.5L469.9 362.5L468.0 398.5L463.8 457.9L462.9 481.9L462.9 495.1L463.5 504.7L464.9 512.5L467.0 518.5L469.8 523.3L473.7 527.5L478.6 531.1L484.7 534.1L490.2 535.9L496.6 537.3L519.1 539.5L437.2 539.5L437.2 362.5Z" fill="#88b247"/>
<path d="M437.8 362.5L466.9 362.5L464.6 399.7L460.7 453.7L459.9 472.9L459.9 489.7L460.6 502.3L461.9 511.9L462.9 516.1L463.9 519.1L466.0 523.3L469.1 527.5L472.6 530.5L477.5 533.5L483.5 535.9L489.4 537.4L496.0 538.6L505.4 539.5L437.2 539.5L437.2 362.5Z" fill="#74aa45"/>
<path d="M437.8 362.5L464.2 362.5L458.8 443.5L457.8 465.1L457.5 480.1L457.7 492.1L458.3 502.3L459.4 511.2L460.8 517.9L462.9 523.3L465.4 527.5L469.0 531.1L473.7 534.1L479.6 536.5L486.5 538.3L494.0 539.5L437.2 539.5L437.2 362.5Z" fill="#61a244"/>
<path d="M437.8 362.5L461.7 362.5L457.5 430.9L455.9 465.7L455.7 480.1L455.7 491.5L456.3 501.7L457.2 510.1L458.5 517.3L460.1 522.7L462.1 526.9L464.8 530.5L468.5 533.5L473.0 535.9L478.6 537.8L486.3 539.5L437.2 539.5L437.2 362.5Z" fill="#4f9c42"/>
<path d="M437.8 362.5L459.7 362.5L455.8 432.1L454.4 463.9L454.1 478.9L454.1 490.3L454.6 500.0L455.4 508.9L456.4 516.1L457.8 522.1L459.7 526.9L462.0 530.5L465.0 533.5L468.9 535.9L473.8 537.8L480.3 539.5L437.2 539.5L437.2 362.5Z" fill="#3f9542"/>
<path d="M437.8 362.5L457.9 362.5L454.6 426.3L453.1 463.9L452.8 490.3L453.1 499.3L453.9 508.3L454.8 516.1L456.0 522.1L457.6 526.8L459.5 530.5L462.2 533.5L465.5 535.9L469.6 537.8L475.3 539.5L437.2 539.5L437.2 362.5Z" fill="#308f40"/>
<path d="M437.8 362.5L456.3 362.5L453.4 424.0L452.0 461.5L451.6 488.5L451.9 497.5L452.4 506.5L453.4 515.3L454.5 522.1L455.8 526.7L457.5 530.5L459.7 533.5L462.6 535.9L466.0 537.7L471.0 539.5L437.2 539.5L437.2 362.5Z" fill="#238940"/>
<path d="M437.8 362.5L454.9 362.5L452.2 424.9L451.0 460.6L450.6 487.3L450.8 496.9L451.3 505.9L452.1 514.9L453.0 521.5L454.1 526.3L455.7 530.5L457.6 533.5L460.1 535.9L463.0 537.7L467.5 539.5L437.2 539.5L437.2 362.5Z" fill="#18833e"/>
<path d="M437.8 362.5L453.7 362.5L451.3 419.5L450.0 460.3L449.7 486.7L450.3 505.3L451.0 514.1L451.8 521.5L452.7 526.3L454.0 530.1L455.8 533.4L458.0 535.9L460.6 537.7L464.4 539.5L437.2 539.5L437.2 362.5Z" fill="#107e3d"/>
<path d="M437.8 362.5L452.6 362.5L450.4 419.8L449.2 459.3L448.8 485.5L449.3 504.1L450.7 521.5L451.5 526.3L452.5 529.9L454.0 533.1L456.1 535.9L458.3 537.7L461.8 539.5L437.2 539.5L437.2 362.5Z" fill="#0a783b"/>
<path d="M437.8 362.5L451.6 362.5L449.8 411.8L448.4 456.7L448.0 484.3L448.4 503.5L449.7 521.5L450.4 526.3L451.2 529.9L452.8 533.5L454.5 535.9L456.5 537.7L459.5 539.5L437.2 539.5L437.2 362.5Z" fill="#08743a"/>
<path d="M437.8 362.5L450.7 362.5L448.6 423.7L447.6 457.3L447.3 484.3L447.6 503.5L448.7 521.5L449.3 526.3L450.1 529.9L451.2 532.9L452.8 535.6L454.8 537.7L457.5 539.5L437.2 539.5L437.2 362.5Z" fill="#09723c"/>
<path d="M437.8 362.5L449.9 362.5L448.0 419.4L446.9 457.3L446.6 484.3L446.8 503.5L447.9 522.1L448.3 526.3L449.0 529.9L450.0 532.9L451.6 535.7L453.3 537.7L455.7 539.5L437.2 539.5L437.2 362.5Z" fill="#0b6e3c"/>
<path d="M437.8 362.5L449.1 362.5L446.3 458.5L445.9 485.5L446.1 504.7L446.9 521.5L447.4 526.3L448.1 529.9L449.0 532.9L450.4 535.7L452.0 537.7L454.2 539.5L437.2 539.5L437.2 362.5Z" fill="#0d6a3c"/>
<path d="M437.8 362.5L448.4 362.5L445.6 459.1L445.3 486.1L445.4 505.9L446.2 521.9L447.2 529.9L448.0 532.9L449.2 535.5L450.7 537.7L452.8 539.5L437.2 539.5L437.2 362.5Z" fill="#10663c"/>
<path d="M437.8 362.5L447.7 362.5L445.0 459.7L444.7 486.7L444.8 506.5L445.4 521.5L446.3 529.9L447.3 533.5L448.4 535.9L449.8 537.8L451.5 539.5L437.2 539.5L437.2 362.5Z" fill="#14623d"/>
<path d="M437.8 362.5L447.1 362.5L444.5 460.3L444.1 487.9L444.2 507.7L444.7 521.5L445.6 529.9L446.3 532.9L447.4 535.6L448.7 537.7L450.4 539.5L437.2 539.5L437.2 362.5Z" fill="#195e3f"/>
<path d="M437.8 362.5L446.5 362.5L444.0 459.7L443.6 487.9L443.6 508.3L444.1 522.1L445.0 530.4L445.7 533.5L446.7 535.9L447.7 537.7L449.3 539.5L437.2 539.5L437.2 362.5Z" fill="#1f5a41"/>
<path d="M437.8 362.5L446.0 362.5L443.5 459.1L443.1 487.9L443.1 508.9L443.5 522.1L444.3 530.5L445.0 533.5L445.9 535.9L446.9 537.7L448.4 539.5L437.2 539.5L437.2 362.5Z" fill="#265644"/>
<path d="M437.8 362.5L445.5 362.5L443.1 456.7L442.6 487.9L442.6 508.9L442.9 522.1L443.7 530.5L444.4 533.5L445.2 535.9L446.2 537.7L447.5 539.5L437.2 539.5L437.2 362.5Z" fill="#305246"/>
<path d="M437.8 362.5L445.0 362.5L442.6 462.4L442.1 508.9L442.4 522.1L443.2 530.2L444.4 535.3L445.4 537.7L446.7 539.5L437.2 539.5L437.2 362.5Z" fill="#385049"/>
<path d="M437.8 362.5L444.6 362.5L442.1 462.7L441.7 509.5L442.0 522.0L442.6 529.9L443.8 535.3L444.8 537.7L446.0 539.5L437.2 539.5L437.2 362.5Z" fill="#414e4b"/>
<path d="M437.8 362.5L444.1 362.5L441.8 458.5L441.3 487.9L441.2 509.5L441.5 522.1L442.2 530.5L443.4 535.9L444.4 538.0L445.3 539.5L437.2 539.5L437.2 362.5Z" fill="#404040"/>
<clipPath id="hcR"><path d="M450.4 362.5L556.6 362.5L558.6 391.9L559.8 402.7L561.3 412.3L563.2 421.4L565.5 430.3L568.1 438.1L571.3 445.9L574.2 451.9L577.5 457.9L581.0 463.3L584.5 468.1L588.5 472.9L592.6 477.1L596.8 480.9L601.0 484.1L605.2 486.9L609.4 489.1L613.6 490.9L618.4 492.3L623.2 493.1L627.4 493.2L630.4 493.1L636.4 492.2L636.4 539.5L455.7 539.5L453.3 537.7L451.7 535.9L450.3 533.5L449.2 530.5L448.5 527.5L447.5 517.3L446.7 498.7L446.6 478.9L447.1 451.9L449.9 362.5Z"/></clipPath>
<path clip-path="url(#hcR)" d="M437 358.1L251.15 543.95M445.7 358.1L259.85 543.95M454.4 358.1L268.55 543.95M463.1 358.1L277.25 543.95M471.8 358.1L285.95 543.95M480.5 358.1L294.65 543.95M489.2 358.1L303.35 543.95M497.9 358.1L312.05 543.95M506.6 358.1L320.75 543.95M515.3 358.1L329.45 543.95M524 358.1L338.15 543.95M532.7 358.1L346.85 543.95M541.4 358.1L355.55 543.95M550.1 358.1L364.25 543.95M558.8 358.1L372.95 543.95M567.5 358.1L381.65 543.95M576.2 358.1L390.35 543.95M584.9 358.1L399.05 543.95M593.6 358.1L407.75 543.95M602.3 358.1L416.45 543.95M611 358.1L425.15 543.95M619.7 358.1L433.85 543.95M628.4 358.1L442.55 543.95M637.1 358.1L451.25 543.95M645.8 358.1L459.95 543.95M654.5 358.1L468.65 543.95M663.2 358.1L477.35 543.95M671.9 358.1L486.05 543.95M680.6 358.1L494.75 543.95M689.3 358.1L503.46 543.95M698 358.1L512.15 543.95M706.7 358.1L520.85 543.95M715.4 358.1L529.55 543.95M724.1 358.1L538.25 543.95M732.8 358.1L546.96 543.95M741.5 358.1L555.65 543.95M750.2 358.1L564.35 543.95M758.9 358.1L573.05 543.95M767.6 358.1L581.75 543.95M776.3 358.1L590.46 543.95M785 358.1L599.15 543.95M793.7 358.1L607.85 543.95M802.4 358.1L616.55 543.95M811.1 358.1L625.25 543.95M819.8 358.1L633.96 543.95" stroke="#fff" stroke-opacity="0.92" stroke-width="1" fill="none"/>
<path d="M556.6 362.5L557.9 382.9L559.1 396.7L560.8 409.0L562.9 420.1L565.7 430.9L569.2 440.9L573.3 450.1L578.2 458.9L584.0 467.5L590.8 475.3L594.4 478.8L598.0 481.9L602.1 484.9L605.9 487.3L609.4 489.1L613.6 490.9L617.2 492.0L620.8 492.8L624.4 493.2L628.0 493.2L636.4 492.2" stroke="#fff" stroke-opacity="0.9" stroke-width="0.8" fill="none" mask="url(#lmR)"/>
<path d="M449.9 362.5L448.0 419.4L446.9 457.3L446.6 484.3L446.8 503.5L447.9 522.1L448.3 526.3L449.0 529.9L450.0 532.9L451.6 535.7L453.3 537.7L455.7 539.5" stroke="#fff" stroke-opacity="0.9" stroke-width="0.8" fill="none" mask="url(#lmR)"/>
<path d="M511.8 362.5L510.9 375.7L508.4 405.1L507.6 419.5L507.4 435.1L508.1 449.5L509.0 457.3L510.2 464.5L511.7 471.1L513.4 477.1L515.6 483.1L518.1 488.5L520.8 493.3L524.1 498.1L527.2 501.9L530.8 505.5L534.8 508.9L538.6 511.5L542.8 513.9L547.3 516.1L552.4 518.0L558.4 519.9L570.4 522.5L585.4 524.6L598.6 525.7L636.4 528.2M493.3 362.5L493.4 374.5L492.9 387.1L489.4 428.3L488.6 440.5L488.2 451.9L488.5 462.7L489.1 470.5L490.1 478.3L491.5 486.1L493.2 493.9L494.8 499.0L496.6 503.6L498.5 507.1L501.1 510.7L503.9 513.7L507.6 516.7L512.3 519.7L517.1 522.1L523.0 524.5L529.6 526.6L536.8 528.5L543.6 529.9L555.4 531.6L567.4 532.5L580.6 533.1L616.0 533.8L626.2 534.3L636.4 535.3M473.0 362.5L471.0 406.3L468.2 449.5L466.4 490.3L466.4 497.5L466.7 503.5L467.6 508.9L468.9 513.7L470.2 516.7L472.0 519.8L474.1 522.7L476.8 525.5L479.8 528.0L482.6 529.9L485.9 531.7L490.0 533.5L495.8 535.3L502.0 536.4L512.8 537.3L523.0 538.6L536.3 539.5M449.9 362.5L448.0 419.4L446.9 457.3L446.6 484.3L446.8 503.5L447.9 522.1L448.3 526.3L449.0 529.9L450.0 532.9L451.6 535.7L453.3 537.7L455.7 539.5M444.1 362.5L441.8 458.5L441.3 487.9L441.2 509.5L441.5 522.1L442.2 530.5L443.4 535.9L444.4 538.0L445.3 539.5" stroke="#222" stroke-width="0.75" fill="none" mask="url(#lmR)"/>
</g>
<text transform="translate(470,396) rotate(-80)" y="3.6" font-size="10" text-anchor="middle" fill="#111">1.70</text>
<text transform="translate(510.4,449) rotate(82)" y="3.6" font-size="10" text-anchor="middle" fill="#111">1.00</text>
<text transform="translate(557.2,373.2) rotate(88)" y="3.6" font-size="10" text-anchor="middle" fill="#111">0.75</text>
<text transform="translate(568.6,532) rotate(3)" y="3.6" font-size="10" text-anchor="middle" fill="#111">1.20</text>
<text transform="translate(447.5,508) rotate(-82)" y="3.6" font-size="10" text-anchor="middle" fill="#111">3.00</text>
<text transform="translate(441.5,517) rotate(-78)" y="3.6" font-size="10" text-anchor="middle" fill="#111">4.00</text>
<path d="M429.55 363.1V548.2H646.9V363.1Z" fill="none" stroke="#3a3a3a" stroke-width="1"/>
<line x1="425.95" y1="548.2" x2="433.15" y2="548.2" stroke="#3a3a3a" stroke-width="1" />
<line x1="643.3" y1="548.2" x2="650.5" y2="548.2" stroke="#3a3a3a" stroke-width="1" />
<text x="421.95" y="552" font-size="10.5" font-weight="normal" text-anchor="end" fill="#222" >0</text>
<line x1="427.75" y1="538.95" x2="431.55" y2="538.95" stroke="#3a3a3a" stroke-width="1" />
<line x1="644.9" y1="538.95" x2="648.7" y2="538.95" stroke="#3a3a3a" stroke-width="1" />
<line x1="425.95" y1="529.69" x2="433.15" y2="529.69" stroke="#3a3a3a" stroke-width="1" />
<line x1="643.3" y1="529.69" x2="650.5" y2="529.69" stroke="#3a3a3a" stroke-width="1" />
<text x="421.95" y="533.49" font-size="10.5" font-weight="normal" text-anchor="end" fill="#222" >10</text>
<line x1="427.75" y1="520.44" x2="431.55" y2="520.44" stroke="#3a3a3a" stroke-width="1" />
<line x1="644.9" y1="520.44" x2="648.7" y2="520.44" stroke="#3a3a3a" stroke-width="1" />
<line x1="425.95" y1="511.18" x2="433.15" y2="511.18" stroke="#3a3a3a" stroke-width="1" />
<line x1="643.3" y1="511.18" x2="650.5" y2="511.18" stroke="#3a3a3a" stroke-width="1" />
<text x="421.95" y="514.98" font-size="10.5" font-weight="normal" text-anchor="end" fill="#222" >20</text>
<line x1="427.75" y1="501.93" x2="431.55" y2="501.93" stroke="#3a3a3a" stroke-width="1" />
<line x1="644.9" y1="501.93" x2="648.7" y2="501.93" stroke="#3a3a3a" stroke-width="1" />
<line x1="425.95" y1="492.67" x2="433.15" y2="492.67" stroke="#3a3a3a" stroke-width="1" />
<line x1="643.3" y1="492.67" x2="650.5" y2="492.67" stroke="#3a3a3a" stroke-width="1" />
<text x="421.95" y="496.47" font-size="10.5" font-weight="normal" text-anchor="end" fill="#222" >30</text>
<line x1="427.75" y1="483.42" x2="431.55" y2="483.42" stroke="#3a3a3a" stroke-width="1" />
<line x1="644.9" y1="483.42" x2="648.7" y2="483.42" stroke="#3a3a3a" stroke-width="1" />
<line x1="425.95" y1="474.16" x2="433.15" y2="474.16" stroke="#3a3a3a" stroke-width="1" />
<line x1="643.3" y1="474.16" x2="650.5" y2="474.16" stroke="#3a3a3a" stroke-width="1" />
<text x="421.95" y="477.96" font-size="10.5" font-weight="normal" text-anchor="end" fill="#222" >40</text>
<line x1="427.75" y1="464.91" x2="431.55" y2="464.91" stroke="#3a3a3a" stroke-width="1" />
<line x1="644.9" y1="464.91" x2="648.7" y2="464.91" stroke="#3a3a3a" stroke-width="1" />
<line x1="425.95" y1="455.65" x2="433.15" y2="455.65" stroke="#3a3a3a" stroke-width="1" />
<line x1="643.3" y1="455.65" x2="650.5" y2="455.65" stroke="#3a3a3a" stroke-width="1" />
<text x="421.95" y="459.45" font-size="10.5" font-weight="normal" text-anchor="end" fill="#222" >50</text>
<line x1="427.75" y1="446.4" x2="431.55" y2="446.4" stroke="#3a3a3a" stroke-width="1" />
<line x1="644.9" y1="446.4" x2="648.7" y2="446.4" stroke="#3a3a3a" stroke-width="1" />
<line x1="425.95" y1="437.14" x2="433.15" y2="437.14" stroke="#3a3a3a" stroke-width="1" />
<line x1="643.3" y1="437.14" x2="650.5" y2="437.14" stroke="#3a3a3a" stroke-width="1" />
<text x="421.95" y="440.94" font-size="10.5" font-weight="normal" text-anchor="end" fill="#222" >60</text>
<line x1="427.75" y1="427.89" x2="431.55" y2="427.89" stroke="#3a3a3a" stroke-width="1" />
<line x1="644.9" y1="427.89" x2="648.7" y2="427.89" stroke="#3a3a3a" stroke-width="1" />
<line x1="425.95" y1="418.63" x2="433.15" y2="418.63" stroke="#3a3a3a" stroke-width="1" />
<line x1="643.3" y1="418.63" x2="650.5" y2="418.63" stroke="#3a3a3a" stroke-width="1" />
<text x="421.95" y="422.43" font-size="10.5" font-weight="normal" text-anchor="end" fill="#222" >70</text>
<line x1="427.75" y1="409.38" x2="431.55" y2="409.38" stroke="#3a3a3a" stroke-width="1" />
<line x1="644.9" y1="409.38" x2="648.7" y2="409.38" stroke="#3a3a3a" stroke-width="1" />
<line x1="425.95" y1="400.12" x2="433.15" y2="400.12" stroke="#3a3a3a" stroke-width="1" />
<line x1="643.3" y1="400.12" x2="650.5" y2="400.12" stroke="#3a3a3a" stroke-width="1" />
<text x="421.95" y="403.92" font-size="10.5" font-weight="normal" text-anchor="end" fill="#222" >80</text>
<line x1="427.75" y1="390.87" x2="431.55" y2="390.87" stroke="#3a3a3a" stroke-width="1" />
<line x1="644.9" y1="390.87" x2="648.7" y2="390.87" stroke="#3a3a3a" stroke-width="1" />
<line x1="425.95" y1="381.61" x2="433.15" y2="381.61" stroke="#3a3a3a" stroke-width="1" />
<line x1="643.3" y1="381.61" x2="650.5" y2="381.61" stroke="#3a3a3a" stroke-width="1" />
<text x="421.95" y="385.41" font-size="10.5" font-weight="normal" text-anchor="end" fill="#222" >90</text>
<line x1="427.75" y1="372.36" x2="431.55" y2="372.36" stroke="#3a3a3a" stroke-width="1" />
<line x1="644.9" y1="372.36" x2="648.7" y2="372.36" stroke="#3a3a3a" stroke-width="1" />
<line x1="425.95" y1="363.1" x2="433.15" y2="363.1" stroke="#3a3a3a" stroke-width="1" />
<line x1="643.3" y1="363.1" x2="650.5" y2="363.1" stroke="#3a3a3a" stroke-width="1" />
<text x="421.95" y="366.9" font-size="10.5" font-weight="normal" text-anchor="end" fill="#222" >100</text>
<line x1="429.55" y1="544.7" x2="429.55" y2="551.7" stroke="#3a3a3a" stroke-width="1" />
<line x1="429.55" y1="359.6" x2="429.55" y2="366.6" stroke="#3a3a3a" stroke-width="1" />
<text x="429.55" y="563.7" font-size="10.5" font-weight="normal" text-anchor="middle" fill="#222" >0.0</text>
<line x1="451.29" y1="546.4" x2="451.29" y2="550" stroke="#3a3a3a" stroke-width="1" />
<line x1="451.29" y1="361.3" x2="451.29" y2="364.9" stroke="#3a3a3a" stroke-width="1" />
<line x1="473.02" y1="544.7" x2="473.02" y2="551.7" stroke="#3a3a3a" stroke-width="1" />
<line x1="473.02" y1="359.6" x2="473.02" y2="366.6" stroke="#3a3a3a" stroke-width="1" />
<text x="473.02" y="563.7" font-size="10.5" font-weight="normal" text-anchor="middle" fill="#222" >0.2</text>
<line x1="494.75" y1="546.4" x2="494.75" y2="550" stroke="#3a3a3a" stroke-width="1" />
<line x1="494.75" y1="361.3" x2="494.75" y2="364.9" stroke="#3a3a3a" stroke-width="1" />
<line x1="516.49" y1="544.7" x2="516.49" y2="551.7" stroke="#3a3a3a" stroke-width="1" />
<line x1="516.49" y1="359.6" x2="516.49" y2="366.6" stroke="#3a3a3a" stroke-width="1" />
<text x="516.49" y="563.7" font-size="10.5" font-weight="normal" text-anchor="middle" fill="#222" >0.4</text>
<line x1="538.23" y1="546.4" x2="538.23" y2="550" stroke="#3a3a3a" stroke-width="1" />
<line x1="538.23" y1="361.3" x2="538.23" y2="364.9" stroke="#3a3a3a" stroke-width="1" />
<line x1="559.96" y1="544.7" x2="559.96" y2="551.7" stroke="#3a3a3a" stroke-width="1" />
<line x1="559.96" y1="359.6" x2="559.96" y2="366.6" stroke="#3a3a3a" stroke-width="1" />
<text x="559.96" y="563.7" font-size="10.5" font-weight="normal" text-anchor="middle" fill="#222" >0.6</text>
<line x1="581.7" y1="546.4" x2="581.7" y2="550" stroke="#3a3a3a" stroke-width="1" />
<line x1="581.7" y1="361.3" x2="581.7" y2="364.9" stroke="#3a3a3a" stroke-width="1" />
<line x1="603.43" y1="544.7" x2="603.43" y2="551.7" stroke="#3a3a3a" stroke-width="1" />
<line x1="603.43" y1="359.6" x2="603.43" y2="366.6" stroke="#3a3a3a" stroke-width="1" />
<text x="603.43" y="563.7" font-size="10.5" font-weight="normal" text-anchor="middle" fill="#222" >0.8</text>
<line x1="625.16" y1="546.4" x2="625.16" y2="550" stroke="#3a3a3a" stroke-width="1" />
<line x1="625.16" y1="361.3" x2="625.16" y2="364.9" stroke="#3a3a3a" stroke-width="1" />
<line x1="646.9" y1="544.7" x2="646.9" y2="551.7" stroke="#3a3a3a" stroke-width="1" />
<line x1="646.9" y1="359.6" x2="646.9" y2="366.6" stroke="#3a3a3a" stroke-width="1" />
<text x="646.9" y="563.7" font-size="10.5" font-weight="normal" text-anchor="middle" fill="#222" >1.0</text>
<text x="502.2" y="581.4" font-size="15.5" font-weight="bold" text-anchor="start" fill="#111"  textLength="77" lengthAdjust="spacingAndGlyphs">Yield (g·g<tspan font-size="9" dy="-5.5">-1</tspan><tspan dy="5.5">)</tspan></text>
<text transform="translate(399.4,449.2) rotate(-90)" font-size="15.5" textLength="75.5" lengthAdjust="spacingAndGlyphs" font-weight="bold" text-anchor="middle" fill="#33201c">Titer (g·L<tspan font-size="9" dy="-5.5">-1</tspan><tspan dy="5.5">)</tspan></text>
<rect x="654.4" y="372.8" width="10.9" height="175.4" fill="#e9a929"/>
<rect x="654.4" y="372.8" width="10.9" height="171.02" fill="#e9ab2b"/>
<rect x="654.4" y="372.8" width="10.9" height="166.63" fill="#eaad2d"/>
<rect x="654.4" y="372.8" width="10.9" height="162.25" fill="#eaaf2f"/>
<rect x="654.4" y="372.8" width="10.9" height="157.86" fill="#eab232"/>
<rect x="654.4" y="372.8" width="10.9" height="153.48" fill="#ebb435"/>
<rect x="654.4" y="372.8" width="10.9" height="149.09" fill="#ecb938"/>
<rect x="654.4" y="372.8" width="10.9" height="144.7" fill="#eec03d"/>
<rect x="654.4" y="372.8" width="10.9" height="140.32" fill="#f0c642"/>
<rect x="654.4" y="372.8" width="10.9" height="135.94" fill="#f1ca46"/>
<rect x="654.4" y="372.8" width="10.9" height="131.55" fill="#f1ce4a"/>
<rect x="654.4" y="372.8" width="10.9" height="127.17" fill="#f2d250"/>
<rect x="654.4" y="372.8" width="10.9" height="122.78" fill="#f2d452"/>
<rect x="654.4" y="372.8" width="10.9" height="118.4" fill="#f0d454"/>
<rect x="654.4" y="372.8" width="10.9" height="114.01" fill="#e2d053"/>
<rect x="654.4" y="372.8" width="10.9" height="109.63" fill="#cac851"/>
<rect x="654.4" y="372.8" width="10.9" height="105.24" fill="#b3c04e"/>
<rect x="654.4" y="372.8" width="10.9" height="100.86" fill="#9db94a"/>
<rect x="654.4" y="372.8" width="10.9" height="96.47" fill="#88b247"/>
<rect x="654.4" y="372.8" width="10.9" height="92.08" fill="#74aa45"/>
<rect x="654.4" y="372.8" width="10.9" height="87.7" fill="#61a244"/>
<rect x="654.4" y="372.8" width="10.9" height="83.31" fill="#4f9c42"/>
<rect x="654.4" y="372.8" width="10.9" height="78.93" fill="#3f9542"/>
<rect x="654.4" y="372.8" width="10.9" height="74.55" fill="#2f8f40"/>
<rect x="654.4" y="372.8" width="10.9" height="70.16" fill="#228940"/>
<rect x="654.4" y="372.8" width="10.9" height="65.78" fill="#18833e"/>
<rect x="654.4" y="372.8" width="10.9" height="61.39" fill="#107e3d"/>
<rect x="654.4" y="372.8" width="10.9" height="57" fill="#0a783b"/>
<rect x="654.4" y="372.8" width="10.9" height="52.62" fill="#09743a"/>
<rect x="654.4" y="372.8" width="10.9" height="48.24" fill="#0a723c"/>
<rect x="654.4" y="372.8" width="10.9" height="43.85" fill="#0b6e3c"/>
<rect x="654.4" y="372.8" width="10.9" height="39.46" fill="#0d6a3c"/>
<rect x="654.4" y="372.8" width="10.9" height="35.08" fill="#10663c"/>
<rect x="654.4" y="372.8" width="10.9" height="30.69" fill="#14623e"/>
<rect x="654.4" y="372.8" width="10.9" height="26.31" fill="#195e3f"/>
<rect x="654.4" y="372.8" width="10.9" height="21.93" fill="#1f5a41"/>
<rect x="654.4" y="372.8" width="10.9" height="17.54" fill="#265644"/>
<rect x="654.4" y="372.8" width="10.9" height="13.16" fill="#305246"/>
<rect x="654.4" y="372.8" width="10.9" height="8.77" fill="#395049"/>
<rect x="654.4" y="372.8" width="10.9" height="4.38" fill="#424e4b"/>
<path d="M654.4 372.8L659.85 363.1L665.3 372.8Z" fill="#404040"/>
<clipPath id="cbhR"><rect x="654.4" y="416.65" width="10.9" height="98.66"/></clipPath>
<path clip-path="url(#cbhR)" d="M615.35 414.65L512.69 517.31M624.05 414.65L521.39 517.31M632.75 414.65L530.09 517.31M641.45 414.65L538.79 517.31M650.15 414.65L547.49 517.31M658.85 414.65L556.19 517.31M667.55 414.65L564.89 517.31M676.25 414.65L573.59 517.31M684.95 414.65L582.29 517.31M693.65 414.65L590.99 517.31M702.35 414.65L599.69 517.31M711.05 414.65L608.39 517.31M719.75 414.65L617.09 517.31M728.45 414.65L625.79 517.31M737.15 414.65L634.49 517.31M745.85 414.65L643.19 517.31M754.55 414.65L651.89 517.31M763.25 414.65L660.59 517.31M771.95 414.65L669.29 517.31M780.65 414.65L677.99 517.31M789.35 414.65L686.69 517.31M798.05 414.65L695.39 517.31M806.75 414.65L704.09 517.31M815.45 414.65L712.79 517.31M824.15 414.65L721.49 517.31M832.85 414.65L730.19 517.31M841.55 414.65L738.89 517.31M850.25 414.65L747.59 517.31M858.95 414.65L756.29 517.31M867.65 414.65L764.99 517.31M876.35 414.65L773.69 517.31M885.05 414.65L782.39 517.31M893.75 414.65L791.09 517.31M902.45 414.65L799.79 517.31M911.15 414.65L808.49 517.31M919.85 414.65L817.19 517.31M928.55 414.65L825.89 517.31M937.25 414.65L834.59 517.31M945.95 414.65L843.29 517.31M954.65 414.65L851.99 517.31M963.35 414.65L860.69 517.31M972.05 414.65L869.39 517.31M980.75 414.65L878.09 517.31M989.45 414.65L886.79 517.31M998.15 414.65L895.49 517.31M1006.85 414.65L904.19 517.31M1015.55 414.65L912.89 517.31M1024.25 414.65L921.59 517.31M1032.95 414.65L930.29 517.31M1041.65 414.65L938.99 517.31M1050.35 414.65L947.69 517.31M1059.05 414.65L956.39 517.31M1067.75 414.65L965.09 517.31M1076.45 414.65L973.79 517.31M1085.15 414.65L982.49 517.31M1093.85 414.65L991.19 517.31M1102.55 414.65L999.89 517.31M1111.25 414.65L1008.59 517.31M1119.95 414.65L1017.29 517.31M1128.65 414.65L1025.99 517.31M1137.35 414.65L1034.69 517.31M1146.05 414.65L1043.39 517.31M1154.75 414.65L1052.09 517.31M1163.45 414.65L1060.79 517.31M1172.15 414.65L1069.49 517.31" stroke="#fff" stroke-opacity="0.85" stroke-width="1" fill="none"/>
<line x1="654.4" y1="416.65" x2="665.3" y2="416.65" stroke="#fff" stroke-width="0.9" />
<line x1="654.4" y1="515.31" x2="665.3" y2="515.31" stroke="#fff" stroke-width="0.9" />
<path d="M654.4 372.8L659.85 363.1L665.3 372.8V548.2H654.4Z" fill="none" stroke="#333" stroke-width="1"/>
<line x1="654.4" y1="372.8" x2="654.4" y2="548.2" stroke="#333" stroke-width="1.3" />
<line x1="662.8" y1="548.2" x2="667.8" y2="548.2" stroke="#222" stroke-width="1" />
<text x="670.8" y="552" font-size="10.5" font-weight="normal" text-anchor="start" fill="#222" >0.0</text>
<line x1="664.3" y1="543.82" x2="666.8" y2="543.82" stroke="#222" stroke-width="0.8" />
<line x1="664.3" y1="539.43" x2="666.8" y2="539.43" stroke="#222" stroke-width="0.8" />
<line x1="664.3" y1="535.05" x2="666.8" y2="535.05" stroke="#222" stroke-width="0.8" />
<line x1="662.8" y1="530.66" x2="667.8" y2="530.66" stroke="#222" stroke-width="1" />
<text x="670.8" y="534.46" font-size="10.5" font-weight="normal" text-anchor="start" fill="#222" >0.4</text>
<line x1="664.3" y1="526.28" x2="666.8" y2="526.28" stroke="#222" stroke-width="0.8" />
<line x1="664.3" y1="521.89" x2="666.8" y2="521.89" stroke="#222" stroke-width="0.8" />
<line x1="664.3" y1="517.5" x2="666.8" y2="517.5" stroke="#222" stroke-width="0.8" />
<line x1="662.8" y1="513.12" x2="667.8" y2="513.12" stroke="#222" stroke-width="1" />
<text x="670.8" y="516.92" font-size="10.5" font-weight="normal" text-anchor="start" fill="#222" >0.8</text>
<line x1="664.3" y1="508.74" x2="666.8" y2="508.74" stroke="#222" stroke-width="0.8" />
<line x1="664.3" y1="504.35" x2="666.8" y2="504.35" stroke="#222" stroke-width="0.8" />
<line x1="664.3" y1="499.97" x2="666.8" y2="499.97" stroke="#222" stroke-width="0.8" />
<line x1="662.8" y1="495.58" x2="667.8" y2="495.58" stroke="#222" stroke-width="1" />
<text x="670.8" y="499.38" font-size="10.5" font-weight="normal" text-anchor="start" fill="#222" >1.2</text>
<line x1="664.3" y1="491.2" x2="666.8" y2="491.2" stroke="#222" stroke-width="0.8" />
<line x1="664.3" y1="486.81" x2="666.8" y2="486.81" stroke="#222" stroke-width="0.8" />
<line x1="664.3" y1="482.43" x2="666.8" y2="482.43" stroke="#222" stroke-width="0.8" />
<line x1="662.8" y1="478.04" x2="667.8" y2="478.04" stroke="#222" stroke-width="1" />
<text x="670.8" y="481.84" font-size="10.5" font-weight="normal" text-anchor="start" fill="#222" >1.6</text>
<line x1="664.3" y1="473.66" x2="666.8" y2="473.66" stroke="#222" stroke-width="0.8" />
<line x1="664.3" y1="469.27" x2="666.8" y2="469.27" stroke="#222" stroke-width="0.8" />
<line x1="664.3" y1="464.88" x2="666.8" y2="464.88" stroke="#222" stroke-width="0.8" />
<line x1="662.8" y1="460.5" x2="667.8" y2="460.5" stroke="#222" stroke-width="1" />
<text x="670.8" y="464.3" font-size="10.5" font-weight="normal" text-anchor="start" fill="#222" >2.0</text>
<line x1="664.3" y1="456.12" x2="666.8" y2="456.12" stroke="#222" stroke-width="0.8" />
<line x1="664.3" y1="451.73" x2="666.8" y2="451.73" stroke="#222" stroke-width="0.8" />
<line x1="664.3" y1="447.35" x2="666.8" y2="447.35" stroke="#222" stroke-width="0.8" />
<line x1="662.8" y1="442.96" x2="667.8" y2="442.96" stroke="#222" stroke-width="1" />
<text x="670.8" y="446.76" font-size="10.5" font-weight="normal" text-anchor="start" fill="#222" >2.4</text>
<line x1="664.3" y1="438.58" x2="666.8" y2="438.58" stroke="#222" stroke-width="0.8" />
<line x1="664.3" y1="434.19" x2="666.8" y2="434.19" stroke="#222" stroke-width="0.8" />
<line x1="664.3" y1="429.81" x2="666.8" y2="429.81" stroke="#222" stroke-width="0.8" />
<line x1="662.8" y1="425.42" x2="667.8" y2="425.42" stroke="#222" stroke-width="1" />
<text x="670.8" y="429.22" font-size="10.5" font-weight="normal" text-anchor="start" fill="#222" >2.8</text>
<line x1="664.3" y1="421.04" x2="666.8" y2="421.04" stroke="#222" stroke-width="0.8" />
<line x1="664.3" y1="416.65" x2="666.8" y2="416.65" stroke="#222" stroke-width="0.8" />
<line x1="664.3" y1="412.26" x2="666.8" y2="412.26" stroke="#222" stroke-width="0.8" />
<line x1="662.8" y1="407.88" x2="667.8" y2="407.88" stroke="#222" stroke-width="1" />
<text x="670.8" y="411.68" font-size="10.5" font-weight="normal" text-anchor="start" fill="#222" >3.2</text>
<line x1="664.3" y1="403.5" x2="666.8" y2="403.5" stroke="#222" stroke-width="0.8" />
<line x1="664.3" y1="399.11" x2="666.8" y2="399.11" stroke="#222" stroke-width="0.8" />
<line x1="664.3" y1="394.73" x2="666.8" y2="394.73" stroke="#222" stroke-width="0.8" />
<line x1="662.8" y1="390.34" x2="667.8" y2="390.34" stroke="#222" stroke-width="1" />
<text x="670.8" y="394.14" font-size="10.5" font-weight="normal" text-anchor="start" fill="#222" >3.6</text>
<line x1="664.3" y1="385.96" x2="666.8" y2="385.96" stroke="#222" stroke-width="0.8" />
<line x1="664.3" y1="381.57" x2="666.8" y2="381.57" stroke="#222" stroke-width="0.8" />
<line x1="664.3" y1="377.19" x2="666.8" y2="377.19" stroke="#222" stroke-width="0.8" />
<line x1="662.8" y1="372.8" x2="667.8" y2="372.8" stroke="#222" stroke-width="1" />
<text x="670.8" y="376.6" font-size="10.5" font-weight="normal" text-anchor="start" fill="#222" >4.0</text>
</svg></body></html>
